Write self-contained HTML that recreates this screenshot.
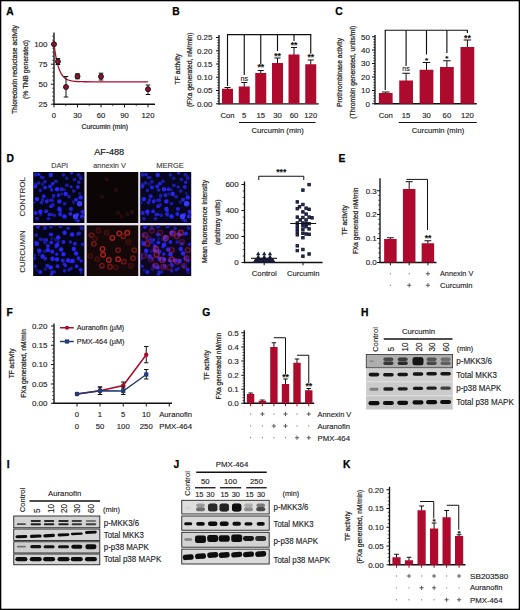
<!DOCTYPE html>
<html><head><meta charset="utf-8"><title>Figure</title>
<style>
html,body{margin:0;padding:0;background:#fff;}
body{width:520px;height:610px;overflow:hidden;}
svg{display:block;font-family:"Liberation Sans",sans-serif;}
</style></head>
<body>
<svg width="520" height="610" viewBox="0 0 520 610">
<rect width="520" height="610" fill="#ffffff"/>
<defs><filter id="blur1" x="-10%" y="-10%" width="120%" height="120%"><feGaussianBlur stdDeviation="0.7"/></filter><filter id="blurb" x="-10%" y="-30%" width="120%" height="160%"><feGaussianBlur stdDeviation="0.75"/></filter><filter id="blurs" x="-10%" y="-30%" width="120%" height="160%"><feGaussianBlur stdDeviation="0.6"/></filter></defs>
<text x="6.3" y="14.9" font-size="10.3" font-weight="bold" fill="#000" stroke="#000" stroke-width="0.25">A</text>
<line x1="54" y1="32.5" x2="54" y2="104.8" stroke="#111111" stroke-width="1.35"/>
<line x1="51" y1="44.2" x2="54" y2="44.2" stroke="#111111" stroke-width="1"/>
<text x="47.5" y="47.05" font-size="8" text-anchor="end" fill="#1e1e1e" stroke="#1e1e1e" stroke-width="0.14">100</text>
<line x1="51" y1="64.2" x2="54" y2="64.2" stroke="#111111" stroke-width="1"/>
<text x="47.5" y="67.05" font-size="8" text-anchor="end" fill="#1e1e1e" stroke="#1e1e1e" stroke-width="0.14">75</text>
<line x1="51" y1="84.2" x2="54" y2="84.2" stroke="#111111" stroke-width="1"/>
<text x="47.5" y="87.05" font-size="8" text-anchor="end" fill="#1e1e1e" stroke="#1e1e1e" stroke-width="0.14">50</text>
<line x1="51" y1="104.2" x2="54" y2="104.2" stroke="#111111" stroke-width="1"/>
<text x="47.5" y="107.05" font-size="8" text-anchor="end" fill="#1e1e1e" stroke="#1e1e1e" stroke-width="0.14">25</text>
<line x1="52.2" y1="36.2" x2="54" y2="36.2" stroke="#111111" stroke-width="0.7"/>
<line x1="52.2" y1="40.2" x2="54" y2="40.2" stroke="#111111" stroke-width="0.7"/>
<line x1="52.2" y1="48.2" x2="54" y2="48.2" stroke="#111111" stroke-width="0.7"/>
<line x1="52.2" y1="52.2" x2="54" y2="52.2" stroke="#111111" stroke-width="0.7"/>
<line x1="52.2" y1="56.2" x2="54" y2="56.2" stroke="#111111" stroke-width="0.7"/>
<line x1="52.2" y1="60.2" x2="54" y2="60.2" stroke="#111111" stroke-width="0.7"/>
<line x1="52.2" y1="68.2" x2="54" y2="68.2" stroke="#111111" stroke-width="0.7"/>
<line x1="52.2" y1="72.2" x2="54" y2="72.2" stroke="#111111" stroke-width="0.7"/>
<line x1="52.2" y1="76.2" x2="54" y2="76.2" stroke="#111111" stroke-width="0.7"/>
<line x1="52.2" y1="80.2" x2="54" y2="80.2" stroke="#111111" stroke-width="0.7"/>
<line x1="52.2" y1="88.2" x2="54" y2="88.2" stroke="#111111" stroke-width="0.7"/>
<line x1="52.2" y1="92.2" x2="54" y2="92.2" stroke="#111111" stroke-width="0.7"/>
<line x1="52.2" y1="96.2" x2="54" y2="96.2" stroke="#111111" stroke-width="0.7"/>
<line x1="52.2" y1="100.2" x2="54" y2="100.2" stroke="#111111" stroke-width="0.7"/>
<line x1="53.4" y1="104.2" x2="155" y2="104.2" stroke="#111111" stroke-width="1.35"/>
<line x1="54" y1="104.2" x2="54" y2="107.4" stroke="#111111" stroke-width="1"/>
<text x="54" y="117.5" font-size="7.7" text-anchor="middle" fill="#1e1e1e" stroke="#1e1e1e" stroke-width="0.14">0</text>
<line x1="77.5" y1="104.2" x2="77.5" y2="107.4" stroke="#111111" stroke-width="1"/>
<text x="77.5" y="117.5" font-size="7.7" text-anchor="middle" fill="#1e1e1e" stroke="#1e1e1e" stroke-width="0.14">30</text>
<line x1="101" y1="104.2" x2="101" y2="107.4" stroke="#111111" stroke-width="1"/>
<text x="101" y="117.5" font-size="7.7" text-anchor="middle" fill="#1e1e1e" stroke="#1e1e1e" stroke-width="0.14">60</text>
<line x1="124.5" y1="104.2" x2="124.5" y2="107.4" stroke="#111111" stroke-width="1"/>
<text x="124.5" y="117.5" font-size="7.7" text-anchor="middle" fill="#1e1e1e" stroke="#1e1e1e" stroke-width="0.14">90</text>
<line x1="148" y1="104.2" x2="148" y2="107.4" stroke="#111111" stroke-width="1"/>
<text x="148" y="117.5" font-size="7.7" text-anchor="middle" fill="#1e1e1e" stroke="#1e1e1e" stroke-width="0.14">120</text>
<line x1="65.75" y1="104.2" x2="65.75" y2="106.2" stroke="#111111" stroke-width="0.7"/>
<line x1="89.25" y1="104.2" x2="89.25" y2="106.2" stroke="#111111" stroke-width="0.7"/>
<line x1="112.75" y1="104.2" x2="112.75" y2="106.2" stroke="#111111" stroke-width="0.7"/>
<line x1="136.25" y1="104.2" x2="136.25" y2="106.2" stroke="#111111" stroke-width="0.7"/>
<text x="104.75" y="128.6" font-size="7.4" text-anchor="middle" textLength="46.5" lengthAdjust="spacingAndGlyphs" fill="#1e1e1e" stroke="#2a2a2a" stroke-width="0.22">Curcumin (min)</text>
<text transform="translate(16.6,69.5) rotate(-90)" font-size="7.4" text-anchor="middle" textLength="89" lengthAdjust="spacingAndGlyphs" fill="#1e1e1e" stroke="#222" stroke-width="0.24">Thioredoxin reductase activity</text>
<text transform="translate(28.4,69.5) rotate(-90)" font-size="7.4" text-anchor="middle" textLength="59" lengthAdjust="spacingAndGlyphs" fill="#1e1e1e" stroke="#222" stroke-width="0.24">(% TNB generated)</text>
<polyline points="54.00,44.20 54.78,49.95 55.57,54.82 56.35,58.95 57.13,62.44 57.92,65.40 58.70,67.91 59.48,70.04 60.27,71.84 61.05,73.36 61.83,74.65 62.62,75.74 63.40,76.67 64.18,77.46 64.97,78.12 65.75,78.68 66.53,79.16 67.32,79.56 68.10,79.91 68.88,80.20 69.67,80.44 70.45,80.65 71.23,80.82 72.02,80.97 72.80,81.10 73.58,81.21 74.37,81.30 75.15,81.37 75.93,81.44 76.72,81.49 77.50,81.54 78.28,81.58 79.07,81.61 79.85,81.64 80.63,81.67 81.42,81.69 82.20,81.70 82.98,81.72 83.77,81.73 84.55,81.74 85.33,81.75 93.17,81.79 101.00,81.80 108.83,81.80 116.67,81.80 124.50,81.80 132.33,81.80 140.17,81.80 148.00,81.80" fill="none" stroke="#ae0a2e" stroke-width="1.3"/>
<circle cx="54" cy="44.2" r="2.5" fill="#8e1230" stroke="#111" stroke-width="0.9"/>
<line x1="57.9" y1="58.6" x2="57.9" y2="64.5" stroke="#111" stroke-width="1"/>
<line x1="55.6" y1="58.6" x2="60.2" y2="58.6" stroke="#111" stroke-width="1"/>
<line x1="55.6" y1="64.5" x2="60.2" y2="64.5" stroke="#111" stroke-width="1"/>
<circle cx="57.9" cy="61.5" r="2.5" fill="#8e1230" stroke="#111" stroke-width="0.9"/>
<line x1="66" y1="76.5" x2="66" y2="97" stroke="#111" stroke-width="1"/>
<line x1="63.7" y1="76.5" x2="68.3" y2="76.5" stroke="#111" stroke-width="1"/>
<line x1="63.7" y1="97" x2="68.3" y2="97" stroke="#111" stroke-width="1"/>
<circle cx="66" cy="87" r="2.5" fill="#8e1230" stroke="#111" stroke-width="0.9"/>
<line x1="77.5" y1="73.8" x2="77.5" y2="78.8" stroke="#111" stroke-width="1"/>
<line x1="75.2" y1="73.8" x2="79.8" y2="73.8" stroke="#111" stroke-width="1"/>
<line x1="75.2" y1="78.8" x2="79.8" y2="78.8" stroke="#111" stroke-width="1"/>
<circle cx="77.5" cy="76.3" r="2.5" fill="#8e1230" stroke="#111" stroke-width="0.9"/>
<line x1="101" y1="73.2" x2="101" y2="80" stroke="#111" stroke-width="1"/>
<line x1="98.7" y1="73.2" x2="103.3" y2="73.2" stroke="#111" stroke-width="1"/>
<line x1="98.7" y1="80" x2="103.3" y2="80" stroke="#111" stroke-width="1"/>
<circle cx="101" cy="76.6" r="2.5" fill="#8e1230" stroke="#111" stroke-width="0.9"/>
<line x1="148" y1="85" x2="148" y2="94.5" stroke="#111" stroke-width="1"/>
<line x1="145.7" y1="85" x2="150.3" y2="85" stroke="#111" stroke-width="1"/>
<line x1="145.7" y1="94.5" x2="150.3" y2="94.5" stroke="#111" stroke-width="1"/>
<circle cx="148" cy="89.2" r="2.5" fill="#8e1230" stroke="#111" stroke-width="0.9"/>
<text x="172.2" y="14.9" font-size="10.3" font-weight="bold" fill="#000" stroke="#000" stroke-width="0.25">B</text>
<line x1="219" y1="35" x2="219" y2="104.4" stroke="#111111" stroke-width="1.35"/>
<line x1="216" y1="37.5" x2="219" y2="37.5" stroke="#111111" stroke-width="1"/>
<text x="212.5" y="40.35" font-size="8" text-anchor="end" fill="#1e1e1e" stroke="#1e1e1e" stroke-width="0.14">0.25</text>
<line x1="216" y1="50.75" x2="219" y2="50.75" stroke="#111111" stroke-width="1"/>
<text x="212.5" y="53.6" font-size="8" text-anchor="end" fill="#1e1e1e" stroke="#1e1e1e" stroke-width="0.14">0.20</text>
<line x1="216" y1="64" x2="219" y2="64" stroke="#111111" stroke-width="1"/>
<text x="212.5" y="66.85" font-size="8" text-anchor="end" fill="#1e1e1e" stroke="#1e1e1e" stroke-width="0.14">0.15</text>
<line x1="216" y1="77.25" x2="219" y2="77.25" stroke="#111111" stroke-width="1"/>
<text x="212.5" y="80.1" font-size="8" text-anchor="end" fill="#1e1e1e" stroke="#1e1e1e" stroke-width="0.14">0.10</text>
<line x1="216" y1="90.5" x2="219" y2="90.5" stroke="#111111" stroke-width="1"/>
<text x="212.5" y="93.35" font-size="8" text-anchor="end" fill="#1e1e1e" stroke="#1e1e1e" stroke-width="0.14">0.05</text>
<line x1="216" y1="103.8" x2="219" y2="103.8" stroke="#111111" stroke-width="1"/>
<text x="212.5" y="106.65" font-size="8" text-anchor="end" fill="#1e1e1e" stroke="#1e1e1e" stroke-width="0.14">0.00</text>
<line x1="217.2" y1="40.15" x2="219" y2="40.15" stroke="#111111" stroke-width="0.7"/>
<line x1="217.2" y1="42.8" x2="219" y2="42.8" stroke="#111111" stroke-width="0.7"/>
<line x1="217.2" y1="45.45" x2="219" y2="45.45" stroke="#111111" stroke-width="0.7"/>
<line x1="217.2" y1="48.1" x2="219" y2="48.1" stroke="#111111" stroke-width="0.7"/>
<line x1="217.2" y1="53.4" x2="219" y2="53.4" stroke="#111111" stroke-width="0.7"/>
<line x1="217.2" y1="56.05" x2="219" y2="56.05" stroke="#111111" stroke-width="0.7"/>
<line x1="217.2" y1="58.7" x2="219" y2="58.7" stroke="#111111" stroke-width="0.7"/>
<line x1="217.2" y1="61.35" x2="219" y2="61.35" stroke="#111111" stroke-width="0.7"/>
<line x1="217.2" y1="66.65" x2="219" y2="66.65" stroke="#111111" stroke-width="0.7"/>
<line x1="217.2" y1="69.3" x2="219" y2="69.3" stroke="#111111" stroke-width="0.7"/>
<line x1="217.2" y1="71.95" x2="219" y2="71.95" stroke="#111111" stroke-width="0.7"/>
<line x1="217.2" y1="74.6" x2="219" y2="74.6" stroke="#111111" stroke-width="0.7"/>
<line x1="217.2" y1="79.9" x2="219" y2="79.9" stroke="#111111" stroke-width="0.7"/>
<line x1="217.2" y1="82.55" x2="219" y2="82.55" stroke="#111111" stroke-width="0.7"/>
<line x1="217.2" y1="85.2" x2="219" y2="85.2" stroke="#111111" stroke-width="0.7"/>
<line x1="217.2" y1="87.85" x2="219" y2="87.85" stroke="#111111" stroke-width="0.7"/>
<line x1="217.2" y1="93.16" x2="219" y2="93.16" stroke="#111111" stroke-width="0.7"/>
<line x1="217.2" y1="95.82" x2="219" y2="95.82" stroke="#111111" stroke-width="0.7"/>
<line x1="217.2" y1="98.48" x2="219" y2="98.48" stroke="#111111" stroke-width="0.7"/>
<line x1="217.2" y1="101.14" x2="219" y2="101.14" stroke="#111111" stroke-width="0.7"/>
<line x1="218.4" y1="103.8" x2="318.75" y2="103.8" stroke="#111111" stroke-width="1.35"/>
<text transform="translate(180,69) rotate(-90)" font-size="7.4" text-anchor="middle" textLength="30.75" lengthAdjust="spacingAndGlyphs" fill="#1e1e1e" stroke="#222" stroke-width="0.24">TF activity</text>
<text transform="translate(192,69.75) rotate(-90)" font-size="7.4" text-anchor="middle" textLength="74.5" lengthAdjust="spacingAndGlyphs" fill="#1e1e1e" stroke="#222" stroke-width="0.24">(FXa generated, nM/min)</text>
<line x1="227.5" y1="87.5" x2="227.5" y2="89.25" stroke="#111" stroke-width="1"/>
<line x1="224.47" y1="87.5" x2="230.53" y2="87.5" stroke="#111" stroke-width="1"/>
<rect x="222" y="88.75" width="11" height="15.05" fill="#ae0a2e"/>
<line x1="244.25" y1="82.5" x2="244.25" y2="87" stroke="#111" stroke-width="1"/>
<line x1="241.22" y1="82.5" x2="247.28" y2="82.5" stroke="#111" stroke-width="1"/>
<rect x="238.75" y="86.5" width="11" height="17.3" fill="#ae0a2e"/>
<line x1="260.75" y1="70.5" x2="260.75" y2="73.5" stroke="#111" stroke-width="1"/>
<line x1="257.73" y1="70.5" x2="263.77" y2="70.5" stroke="#111" stroke-width="1"/>
<rect x="255.25" y="73" width="11" height="30.8" fill="#ae0a2e"/>
<line x1="277.5" y1="58" x2="277.5" y2="63.5" stroke="#111" stroke-width="1"/>
<line x1="274.48" y1="58" x2="280.52" y2="58" stroke="#111" stroke-width="1"/>
<rect x="272" y="63" width="11" height="40.8" fill="#ae0a2e"/>
<line x1="294" y1="47.5" x2="294" y2="55" stroke="#111" stroke-width="1"/>
<line x1="290.98" y1="47.5" x2="297.02" y2="47.5" stroke="#111" stroke-width="1"/>
<rect x="288.5" y="54.5" width="11" height="49.3" fill="#ae0a2e"/>
<line x1="310.75" y1="60" x2="310.75" y2="64.75" stroke="#111" stroke-width="1"/>
<line x1="307.73" y1="60" x2="313.77" y2="60" stroke="#111" stroke-width="1"/>
<rect x="305.25" y="64.25" width="11" height="39.55" fill="#ae0a2e"/>
<line x1="227" y1="34.6" x2="311.25" y2="34.6" stroke="#111111" stroke-width="1.1"/>
<line x1="227.5" y1="34.6" x2="227.5" y2="86" stroke="#111111" stroke-width="1.15"/>
<line x1="244.25" y1="34.6" x2="244.25" y2="75" stroke="#111111" stroke-width="1.15"/>
<line x1="260.75" y1="34.6" x2="260.75" y2="64.5" stroke="#111111" stroke-width="1.15"/>
<line x1="277.5" y1="34.6" x2="277.5" y2="51" stroke="#111111" stroke-width="1.15"/>
<line x1="294" y1="34.6" x2="294" y2="41" stroke="#111111" stroke-width="1.15"/>
<line x1="310.75" y1="34.6" x2="310.75" y2="53.75" stroke="#111111" stroke-width="1.15"/>
<text x="244.25" y="81" font-size="7.2" text-anchor="middle" fill="#1e1e1e" stroke="#1e1e1e" stroke-width="0.14">ns</text>
<text x="260.75" y="69.94" font-size="8.6" text-anchor="middle" font-weight="bold" fill="#111" stroke="#111" stroke-width="0.14">**</text>
<text x="277.5" y="58.74" font-size="8.6" text-anchor="middle" font-weight="bold" fill="#111" stroke="#111" stroke-width="0.14">**</text>
<text x="294" y="48.04" font-size="8.6" text-anchor="middle" font-weight="bold" fill="#111" stroke="#111" stroke-width="0.14">**</text>
<text x="310.75" y="60.45" font-size="8.6" text-anchor="middle" font-weight="bold" fill="#111" stroke="#111" stroke-width="0.14">**</text>
<text x="227.5" y="117.5" font-size="7.7" text-anchor="middle" fill="#1e1e1e" stroke="#1e1e1e" stroke-width="0.14">Con</text>
<text x="244.25" y="117.5" font-size="7.7" text-anchor="middle" fill="#1e1e1e" stroke="#1e1e1e" stroke-width="0.14">5</text>
<text x="260.75" y="117.5" font-size="7.7" text-anchor="middle" fill="#1e1e1e" stroke="#1e1e1e" stroke-width="0.14">15</text>
<text x="277.5" y="117.5" font-size="7.7" text-anchor="middle" fill="#1e1e1e" stroke="#1e1e1e" stroke-width="0.14">30</text>
<text x="294" y="117.5" font-size="7.7" text-anchor="middle" fill="#1e1e1e" stroke="#1e1e1e" stroke-width="0.14">60</text>
<text x="310.75" y="117.5" font-size="7.7" text-anchor="middle" fill="#1e1e1e" stroke="#1e1e1e" stroke-width="0.14">120</text>
<line x1="239" y1="122.5" x2="315.5" y2="122.5" stroke="#111111" stroke-width="1.2"/>
<text x="251.5" y="132.5" font-size="7.7" textLength="52.25" lengthAdjust="spacingAndGlyphs" fill="#1e1e1e" stroke="#1e1e1e" stroke-width="0.14">Curcumin (min)</text>
<text x="335.2" y="14.9" font-size="10.3" font-weight="bold" fill="#000" stroke="#000" stroke-width="0.25">C</text>
<line x1="375" y1="35" x2="375" y2="104.35" stroke="#111111" stroke-width="1.35"/>
<line x1="372" y1="36.75" x2="375" y2="36.75" stroke="#111111" stroke-width="1"/>
<text x="370" y="39.6" font-size="8" text-anchor="end" fill="#1e1e1e" stroke="#1e1e1e" stroke-width="0.14">50</text>
<line x1="372" y1="50" x2="375" y2="50" stroke="#111111" stroke-width="1"/>
<text x="370" y="52.85" font-size="8" text-anchor="end" fill="#1e1e1e" stroke="#1e1e1e" stroke-width="0.14">40</text>
<line x1="372" y1="63.5" x2="375" y2="63.5" stroke="#111111" stroke-width="1"/>
<text x="370" y="66.35" font-size="8" text-anchor="end" fill="#1e1e1e" stroke="#1e1e1e" stroke-width="0.14">30</text>
<line x1="372" y1="77" x2="375" y2="77" stroke="#111111" stroke-width="1"/>
<text x="370" y="79.85" font-size="8" text-anchor="end" fill="#1e1e1e" stroke="#1e1e1e" stroke-width="0.14">20</text>
<line x1="372" y1="90.5" x2="375" y2="90.5" stroke="#111111" stroke-width="1"/>
<text x="370" y="93.35" font-size="8" text-anchor="end" fill="#1e1e1e" stroke="#1e1e1e" stroke-width="0.14">10</text>
<line x1="372" y1="103.75" x2="375" y2="103.75" stroke="#111111" stroke-width="1"/>
<text x="370" y="106.6" font-size="8" text-anchor="end" fill="#1e1e1e" stroke="#1e1e1e" stroke-width="0.14">0</text>
<line x1="373.2" y1="39.4" x2="375" y2="39.4" stroke="#111111" stroke-width="0.7"/>
<line x1="373.2" y1="42.05" x2="375" y2="42.05" stroke="#111111" stroke-width="0.7"/>
<line x1="373.2" y1="44.7" x2="375" y2="44.7" stroke="#111111" stroke-width="0.7"/>
<line x1="373.2" y1="47.35" x2="375" y2="47.35" stroke="#111111" stroke-width="0.7"/>
<line x1="373.2" y1="52.7" x2="375" y2="52.7" stroke="#111111" stroke-width="0.7"/>
<line x1="373.2" y1="55.4" x2="375" y2="55.4" stroke="#111111" stroke-width="0.7"/>
<line x1="373.2" y1="58.1" x2="375" y2="58.1" stroke="#111111" stroke-width="0.7"/>
<line x1="373.2" y1="60.8" x2="375" y2="60.8" stroke="#111111" stroke-width="0.7"/>
<line x1="373.2" y1="66.2" x2="375" y2="66.2" stroke="#111111" stroke-width="0.7"/>
<line x1="373.2" y1="68.9" x2="375" y2="68.9" stroke="#111111" stroke-width="0.7"/>
<line x1="373.2" y1="71.6" x2="375" y2="71.6" stroke="#111111" stroke-width="0.7"/>
<line x1="373.2" y1="74.3" x2="375" y2="74.3" stroke="#111111" stroke-width="0.7"/>
<line x1="373.2" y1="79.7" x2="375" y2="79.7" stroke="#111111" stroke-width="0.7"/>
<line x1="373.2" y1="82.4" x2="375" y2="82.4" stroke="#111111" stroke-width="0.7"/>
<line x1="373.2" y1="85.1" x2="375" y2="85.1" stroke="#111111" stroke-width="0.7"/>
<line x1="373.2" y1="87.8" x2="375" y2="87.8" stroke="#111111" stroke-width="0.7"/>
<line x1="373.2" y1="93.15" x2="375" y2="93.15" stroke="#111111" stroke-width="0.7"/>
<line x1="373.2" y1="95.8" x2="375" y2="95.8" stroke="#111111" stroke-width="0.7"/>
<line x1="373.2" y1="98.45" x2="375" y2="98.45" stroke="#111111" stroke-width="0.7"/>
<line x1="373.2" y1="101.1" x2="375" y2="101.1" stroke="#111111" stroke-width="0.7"/>
<line x1="374.4" y1="103.75" x2="476.75" y2="103.75" stroke="#111111" stroke-width="1.35"/>
<text transform="translate(342.4,72.5) rotate(-90)" font-size="7.4" text-anchor="middle" textLength="69" lengthAdjust="spacingAndGlyphs" fill="#1e1e1e" stroke="#222" stroke-width="0.24">Prothrombinase activity</text>
<text transform="translate(354.6,72.25) rotate(-90)" font-size="7.4" text-anchor="middle" textLength="93" lengthAdjust="spacingAndGlyphs" fill="#1e1e1e" stroke="#222" stroke-width="0.24">(Thrombin generated, units/ml)</text>
<line x1="385.75" y1="92" x2="385.75" y2="93.5" stroke="#111" stroke-width="1"/>
<line x1="381.97" y1="92" x2="389.53" y2="92" stroke="#111" stroke-width="1"/>
<rect x="378.88" y="93" width="13.75" height="10.75" fill="#ae0a2e"/>
<line x1="406.1" y1="73.25" x2="406.1" y2="81" stroke="#111" stroke-width="1"/>
<line x1="402.32" y1="73.25" x2="409.88" y2="73.25" stroke="#111" stroke-width="1"/>
<rect x="399.23" y="80.5" width="13.75" height="23.25" fill="#ae0a2e"/>
<line x1="426.5" y1="62.5" x2="426.5" y2="70.25" stroke="#111" stroke-width="1"/>
<line x1="422.72" y1="62.5" x2="430.28" y2="62.5" stroke="#111" stroke-width="1"/>
<rect x="419.62" y="69.75" width="13.75" height="34" fill="#ae0a2e"/>
<line x1="446.9" y1="60.75" x2="446.9" y2="67.5" stroke="#111" stroke-width="1"/>
<line x1="443.12" y1="60.75" x2="450.68" y2="60.75" stroke="#111" stroke-width="1"/>
<rect x="440.02" y="67" width="13.75" height="36.75" fill="#ae0a2e"/>
<line x1="467.4" y1="40" x2="467.4" y2="47.5" stroke="#111" stroke-width="1"/>
<line x1="463.62" y1="40" x2="471.18" y2="40" stroke="#111" stroke-width="1"/>
<rect x="460.52" y="47" width="13.75" height="56.75" fill="#ae0a2e"/>
<line x1="384.7" y1="30.25" x2="468" y2="30.25" stroke="#111111" stroke-width="1.15"/>
<line x1="385.25" y1="30.25" x2="385.25" y2="90" stroke="#111111" stroke-width="1.15"/>
<line x1="406.1" y1="30.25" x2="406.1" y2="66" stroke="#111111" stroke-width="1.15"/>
<line x1="426.5" y1="30.25" x2="426.5" y2="54.5" stroke="#111111" stroke-width="1.15"/>
<line x1="446.9" y1="30.25" x2="446.9" y2="53" stroke="#111111" stroke-width="1.15"/>
<line x1="467.4" y1="30.25" x2="467.4" y2="33" stroke="#111111" stroke-width="1.15"/>
<text x="406.1" y="71" font-size="7.2" text-anchor="middle" fill="#1e1e1e" stroke="#1e1e1e" stroke-width="0.14">ns</text>
<text x="426.5" y="62.65" font-size="8" text-anchor="middle" font-weight="bold" fill="#111" stroke="#111" stroke-width="0.14">*</text>
<text x="446.9" y="61.4" font-size="8" text-anchor="middle" font-weight="bold" fill="#111" stroke="#111" stroke-width="0.14">*</text>
<text x="467.4" y="41.24" font-size="8.6" text-anchor="middle" font-weight="bold" fill="#111" stroke="#111" stroke-width="0.14">**</text>
<text x="385.75" y="117.5" font-size="7.7" text-anchor="middle" fill="#1e1e1e" stroke="#1e1e1e" stroke-width="0.14">Con</text>
<text x="406.1" y="117.5" font-size="7.7" text-anchor="middle" fill="#1e1e1e" stroke="#1e1e1e" stroke-width="0.14">15</text>
<text x="426.5" y="117.5" font-size="7.7" text-anchor="middle" fill="#1e1e1e" stroke="#1e1e1e" stroke-width="0.14">30</text>
<text x="446.9" y="117.5" font-size="7.7" text-anchor="middle" fill="#1e1e1e" stroke="#1e1e1e" stroke-width="0.14">60</text>
<text x="467.4" y="117.5" font-size="7.7" text-anchor="middle" fill="#1e1e1e" stroke="#1e1e1e" stroke-width="0.14">120</text>
<line x1="398.75" y1="122.5" x2="476.75" y2="122.5" stroke="#111111" stroke-width="1.2"/>
<text x="411.75" y="132.5" font-size="7.7" textLength="52.5" lengthAdjust="spacingAndGlyphs" fill="#1e1e1e" stroke="#1e1e1e" stroke-width="0.14">Curcumin (min)</text>
<text x="6.6" y="162.3" font-size="10.3" font-weight="bold" fill="#000" stroke="#000" stroke-width="0.25">D</text>
<text x="109.2" y="155.2" font-size="9" text-anchor="middle" textLength="30" lengthAdjust="spacingAndGlyphs" fill="#111" stroke="#111" stroke-width="0.14">AF-488</text>
<text x="51.25" y="167.5" font-size="7.7" textLength="16.75" lengthAdjust="spacingAndGlyphs" fill="#444" stroke="#444" stroke-width="0.14">DAPI</text>
<text x="93.3" y="167.5" font-size="7.7" textLength="32.5" lengthAdjust="spacingAndGlyphs" fill="#444" stroke="#444" stroke-width="0.14">annexin V</text>
<text x="156.25" y="167.5" font-size="7.7" textLength="27.5" lengthAdjust="spacingAndGlyphs" fill="#444" stroke="#444" stroke-width="0.14">MERGE</text>
<text transform="translate(25,196.75) rotate(-90)" font-size="7.7" text-anchor="middle" textLength="39.5" lengthAdjust="spacingAndGlyphs" fill="#333" stroke="#333" stroke-width="0.14">CONTROL</text>
<text transform="translate(25,251.5) rotate(-90)" font-size="7.7" text-anchor="middle" textLength="42.5" lengthAdjust="spacingAndGlyphs" fill="#333" stroke="#333" stroke-width="0.14">CURCUMIN</text>
<rect x="33.2" y="172" width="158" height="104" fill="#e9e2ea"/>
<clipPath id="cp1"><rect x="33.2" y="172" width="51.2" height="51"/></clipPath>
<rect x="33.2" y="172" width="51.2" height="51" fill="#040418"/>
<g clip-path="url(#cp1)"><g filter="url(#blur1)">
<circle cx="40.78" cy="214.52" r="1.63" fill="#141474"/>
<circle cx="58.48" cy="195.03" r="1.89" fill="#2424e0"/>
<circle cx="38.8" cy="174.39" r="1.72" fill="#2424e0"/>
<circle cx="71.55" cy="173.1" r="1.63" fill="#2424e0"/>
<circle cx="73.49" cy="201.97" r="1.95" fill="#141474"/>
<circle cx="35.7" cy="174.25" r="1.97" fill="#141474"/>
<circle cx="52.88" cy="183.61" r="1.86" fill="#2424e0"/>
<circle cx="60.05" cy="210.42" r="1.78" fill="#2424e0"/>
<circle cx="51.14" cy="206.17" r="1.98" fill="#2424e0"/>
<circle cx="79.6" cy="193.39" r="1.59" fill="#141474"/>
<circle cx="82.83" cy="215.14" r="1.87" fill="#141474"/>
<circle cx="78.08" cy="220.69" r="1.75" fill="#2424e0"/>
<circle cx="78.8" cy="182.3" r="1.79" fill="#2020c4"/>
<circle cx="77.44" cy="214.46" r="1.79" fill="#2424e0"/>
<circle cx="35.89" cy="184.89" r="1.71" fill="#2424e0"/>
<circle cx="42.68" cy="199.89" r="1.54" fill="#2020c4"/>
<circle cx="66.72" cy="178.29" r="1.76" fill="#1a1a9c"/>
<circle cx="53.47" cy="196.99" r="1.73" fill="#141474"/>
<circle cx="49.32" cy="214.57" r="1.82" fill="#2424e0"/>
<circle cx="42.46" cy="184.12" r="1.89" fill="#141474"/>
<circle cx="60.64" cy="215.15" r="1.7" fill="#1a1a9c"/>
<circle cx="51.05" cy="214.53" r="1.73" fill="#2020c4"/>
<circle cx="47.39" cy="199.85" r="1.69" fill="#141474"/>
<circle cx="76.19" cy="219.78" r="1.76" fill="#1a1a9c"/>
<circle cx="61.71" cy="193.88" r="1.74" fill="#141474"/>
<circle cx="52.07" cy="200.17" r="1.74" fill="#2424e0"/>
<circle cx="51.68" cy="189.96" r="1.73" fill="#2020c4"/>
<circle cx="35.57" cy="184.25" r="1.78" fill="#1a1a9c"/>
<circle cx="43.06" cy="177.49" r="1.52" fill="#2020c4"/>
<circle cx="80.43" cy="176.45" r="1.73" fill="#141474"/>
<circle cx="71.15" cy="186.78" r="1.55" fill="#2020c4"/>
<circle cx="64.82" cy="189.88" r="1.58" fill="#141474"/>
<circle cx="50.74" cy="174.88" r="2.2" fill="#2828f6"/>
<circle cx="41.51" cy="177.19" r="1.8" fill="#1e1eb4"/>
<circle cx="38.62" cy="182.96" r="1.8" fill="#1e1eb4"/>
<circle cx="44.97" cy="187.58" r="2.0" fill="#2222dc"/>
<circle cx="50.16" cy="186.42" r="2.0" fill="#2222dc"/>
<circle cx="35.16" cy="186.42" r="2.0" fill="#2222dc"/>
<circle cx="40.35" cy="190.46" r="1.8" fill="#1e1eb4"/>
<circle cx="57.08" cy="189.31" r="2.2" fill="#2828f6"/>
<circle cx="61.7" cy="189.31" r="2.0" fill="#2222dc"/>
<circle cx="65.74" cy="193.92" r="2.2" fill="#2828f6"/>
<circle cx="43.81" cy="196.23" r="2.0" fill="#2222dc"/>
<circle cx="36.89" cy="199.11" r="2.2" fill="#2828f6"/>
<circle cx="46.7" cy="201.42" r="2.0" fill="#2222dc"/>
<circle cx="59.39" cy="201.42" r="2.2" fill="#2828f6"/>
<circle cx="41.51" cy="202.58" r="1.8" fill="#1e1eb4"/>
<circle cx="50.74" cy="200.27" r="1.8" fill="#1e1eb4"/>
<circle cx="79.58" cy="203.73" r="2.7" fill="#3838ff"/>
<circle cx="80.74" cy="197.38" r="2.2" fill="#2828f6"/>
<circle cx="76.12" cy="199.69" r="2.0" fill="#2222dc"/>
<circle cx="77.85" cy="187" r="2.0" fill="#2222dc"/>
<circle cx="74.39" cy="179.5" r="1.8" fill="#1e1eb4"/>
<circle cx="80.74" cy="178.35" r="1.8" fill="#1e1eb4"/>
<circle cx="59.39" cy="208.92" r="2.2" fill="#2828f6"/>
<circle cx="46.12" cy="211.23" r="2.0" fill="#2222dc"/>
<circle cx="40.35" cy="211.81" r="2.2" fill="#2828f6"/>
<circle cx="35.74" cy="212.96" r="2.0" fill="#2222dc"/>
<circle cx="70.93" cy="208.92" r="2.0" fill="#2222dc"/>
<circle cx="75.54" cy="216.42" r="2.7" fill="#3838ff"/>
<circle cx="64.58" cy="216.42" r="2.2" fill="#2828f6"/>
<circle cx="59.97" cy="214.11" r="2.0" fill="#2222dc"/>
<circle cx="54.2" cy="215.27" r="1.8" fill="#1e1eb4"/>
<circle cx="70.35" cy="214.11" r="2.0" fill="#2222dc"/>
<circle cx="33.43" cy="202.58" r="1.8" fill="#1e1eb4"/>
<circle cx="69.2" cy="196.81" r="1.8" fill="#1e1eb4"/>
<circle cx="53.62" cy="195.65" r="1.8" fill="#1e1eb4"/>
<circle cx="55.93" cy="181.23" r="1.8" fill="#1e1eb4"/>
<circle cx="63.43" cy="174.88" r="1.8" fill="#1e1eb4"/>
<circle cx="36.89" cy="218.73" r="1.8" fill="#1e1eb4"/>
<circle cx="48.43" cy="218.73" r="1.8" fill="#1e1eb4"/>
<circle cx="81.89" cy="216.42" r="2.0" fill="#2222dc"/>
<circle cx="82.47" cy="211.81" r="2.0" fill="#2222dc"/>
<circle cx="66.89" cy="185.27" r="1.8" fill="#1e1eb4"/>
<circle cx="44.97" cy="181.81" r="1.8" fill="#1e1eb4"/>
<circle cx="53.05" cy="204.88" r="1.8" fill="#1e1eb4"/>
<circle cx="73.81" cy="191.04" r="1.8" fill="#1e1eb4"/>
<circle cx="64.58" cy="203.73" r="1.8" fill="#1e1eb4"/>
<circle cx="78.43" cy="174.88" r="1.8" fill="#1e1eb4"/>
<circle cx="35.74" cy="174.88" r="1.8" fill="#1e1eb4"/>
</g></g>
<clipPath id="cp2"><rect x="86.7" y="172" width="51.5" height="51"/></clipPath>
<rect x="86.7" y="172" width="51.5" height="51" fill="#0b0606"/>
<g clip-path="url(#cp2)"><g filter="url(#blur1)">
<circle cx="106.55" cy="179.5" r="2.2" fill="#260a0a"/>
<circle cx="115.78" cy="189.88" r="2.2" fill="#260a0a"/>
<circle cx="118.08" cy="212.96" r="2.2" fill="#260a0a"/>
<circle cx="127.31" cy="214.11" r="2.2" fill="#260a0a"/>
<circle cx="121.54" cy="216.42" r="2.2" fill="#260a0a"/>
<circle cx="101.93" cy="196.81" r="2.2" fill="#260a0a"/>
<circle cx="131.93" cy="211.81" r="2.2" fill="#260a0a"/>
</g></g>
<clipPath id="cp3"><rect x="140.2" y="172" width="51" height="51"/></clipPath>
<rect x="140.2" y="172" width="51" height="51" fill="#070722"/>
<g clip-path="url(#cp3)"><g filter="url(#blur1)">
<circle cx="147.78" cy="214.52" r="1.63" fill="#141474"/>
<circle cx="165.48" cy="195.03" r="1.89" fill="#2424e0"/>
<circle cx="145.8" cy="174.39" r="1.72" fill="#2424e0"/>
<circle cx="178.55" cy="173.1" r="1.63" fill="#2424e0"/>
<circle cx="180.49" cy="201.97" r="1.95" fill="#141474"/>
<circle cx="142.7" cy="174.25" r="1.97" fill="#141474"/>
<circle cx="159.88" cy="183.61" r="1.86" fill="#2424e0"/>
<circle cx="167.05" cy="210.42" r="1.78" fill="#2424e0"/>
<circle cx="158.14" cy="206.17" r="1.98" fill="#2424e0"/>
<circle cx="186.6" cy="193.39" r="1.59" fill="#141474"/>
<circle cx="189.83" cy="215.14" r="1.87" fill="#141474"/>
<circle cx="185.08" cy="220.69" r="1.75" fill="#2424e0"/>
<circle cx="185.8" cy="182.3" r="1.79" fill="#2020c4"/>
<circle cx="184.44" cy="214.46" r="1.79" fill="#2424e0"/>
<circle cx="142.89" cy="184.89" r="1.71" fill="#2424e0"/>
<circle cx="149.68" cy="199.89" r="1.54" fill="#2020c4"/>
<circle cx="173.72" cy="178.29" r="1.76" fill="#1a1a9c"/>
<circle cx="160.47" cy="196.99" r="1.73" fill="#141474"/>
<circle cx="156.32" cy="214.57" r="1.82" fill="#2424e0"/>
<circle cx="149.46" cy="184.12" r="1.89" fill="#141474"/>
<circle cx="167.64" cy="215.15" r="1.7" fill="#1a1a9c"/>
<circle cx="158.05" cy="214.53" r="1.73" fill="#2020c4"/>
<circle cx="154.39" cy="199.85" r="1.69" fill="#141474"/>
<circle cx="183.19" cy="219.78" r="1.76" fill="#1a1a9c"/>
<circle cx="168.71" cy="193.88" r="1.74" fill="#141474"/>
<circle cx="159.07" cy="200.17" r="1.74" fill="#2424e0"/>
<circle cx="158.68" cy="189.96" r="1.73" fill="#2020c4"/>
<circle cx="142.57" cy="184.25" r="1.78" fill="#1a1a9c"/>
<circle cx="150.06" cy="177.49" r="1.52" fill="#2020c4"/>
<circle cx="187.43" cy="176.45" r="1.73" fill="#141474"/>
<circle cx="178.15" cy="186.78" r="1.55" fill="#2020c4"/>
<circle cx="171.82" cy="189.88" r="1.58" fill="#141474"/>
<circle cx="157.74" cy="174.88" r="2.2" fill="#2828f6"/>
<circle cx="148.51" cy="177.19" r="1.8" fill="#1e1eb4"/>
<circle cx="145.62" cy="182.96" r="1.8" fill="#1e1eb4"/>
<circle cx="151.97" cy="187.58" r="2.0" fill="#2222dc"/>
<circle cx="157.16" cy="186.42" r="2.0" fill="#2222dc"/>
<circle cx="142.16" cy="186.42" r="2.0" fill="#2222dc"/>
<circle cx="147.35" cy="190.46" r="1.8" fill="#1e1eb4"/>
<circle cx="164.08" cy="189.31" r="2.2" fill="#2828f6"/>
<circle cx="168.7" cy="189.31" r="2.0" fill="#2222dc"/>
<circle cx="172.74" cy="193.92" r="2.2" fill="#2828f6"/>
<circle cx="150.81" cy="196.23" r="2.0" fill="#2222dc"/>
<circle cx="143.89" cy="199.11" r="2.2" fill="#2828f6"/>
<circle cx="153.7" cy="201.42" r="2.0" fill="#2222dc"/>
<circle cx="166.39" cy="201.42" r="2.2" fill="#2828f6"/>
<circle cx="148.51" cy="202.58" r="1.8" fill="#1e1eb4"/>
<circle cx="157.74" cy="200.27" r="1.8" fill="#1e1eb4"/>
<circle cx="186.58" cy="203.73" r="2.7" fill="#3838ff"/>
<circle cx="187.74" cy="197.38" r="2.2" fill="#2828f6"/>
<circle cx="183.12" cy="199.69" r="2.0" fill="#2222dc"/>
<circle cx="184.85" cy="187" r="2.0" fill="#2222dc"/>
<circle cx="181.39" cy="179.5" r="1.8" fill="#1e1eb4"/>
<circle cx="187.74" cy="178.35" r="1.8" fill="#1e1eb4"/>
<circle cx="166.39" cy="208.92" r="2.2" fill="#2828f6"/>
<circle cx="153.12" cy="211.23" r="2.0" fill="#2222dc"/>
<circle cx="147.35" cy="211.81" r="2.2" fill="#2828f6"/>
<circle cx="142.74" cy="212.96" r="2.0" fill="#2222dc"/>
<circle cx="177.93" cy="208.92" r="2.0" fill="#2222dc"/>
<circle cx="182.54" cy="216.42" r="2.7" fill="#3838ff"/>
<circle cx="171.58" cy="216.42" r="2.2" fill="#2828f6"/>
<circle cx="166.97" cy="214.11" r="2.0" fill="#2222dc"/>
<circle cx="161.2" cy="215.27" r="1.8" fill="#1e1eb4"/>
<circle cx="177.35" cy="214.11" r="2.0" fill="#2222dc"/>
<circle cx="140.43" cy="202.58" r="1.8" fill="#1e1eb4"/>
<circle cx="176.2" cy="196.81" r="1.8" fill="#1e1eb4"/>
<circle cx="160.62" cy="195.65" r="1.8" fill="#1e1eb4"/>
<circle cx="162.93" cy="181.23" r="1.8" fill="#1e1eb4"/>
<circle cx="170.43" cy="174.88" r="1.8" fill="#1e1eb4"/>
<circle cx="143.89" cy="218.73" r="1.8" fill="#1e1eb4"/>
<circle cx="155.43" cy="218.73" r="1.8" fill="#1e1eb4"/>
<circle cx="188.89" cy="216.42" r="2.0" fill="#2222dc"/>
<circle cx="189.47" cy="211.81" r="2.0" fill="#2222dc"/>
<circle cx="173.89" cy="185.27" r="1.8" fill="#1e1eb4"/>
<circle cx="151.97" cy="181.81" r="1.8" fill="#1e1eb4"/>
<circle cx="160.05" cy="204.88" r="1.8" fill="#1e1eb4"/>
<circle cx="180.81" cy="191.04" r="1.8" fill="#1e1eb4"/>
<circle cx="171.58" cy="203.73" r="1.8" fill="#1e1eb4"/>
<circle cx="185.43" cy="174.88" r="1.8" fill="#1e1eb4"/>
<circle cx="142.74" cy="174.88" r="1.8" fill="#1e1eb4"/>
</g></g>
<clipPath id="cp4"><rect x="33.2" y="225.3" width="51.2" height="50.7"/></clipPath>
<rect x="33.2" y="225.3" width="51.2" height="50.7" fill="#040418"/>
<g clip-path="url(#cp4)"><g filter="url(#blur1)">
<circle cx="81.05" cy="272.74" r="1.55" fill="#141474"/>
<circle cx="51.89" cy="234.59" r="1.63" fill="#2020c4"/>
<circle cx="44.6" cy="228.05" r="2" fill="#1a1a9c"/>
<circle cx="65.49" cy="265.68" r="1.77" fill="#2020c4"/>
<circle cx="56" cy="239.44" r="1.94" fill="#141474"/>
<circle cx="52.04" cy="271.96" r="1.71" fill="#2424e0"/>
<circle cx="77.52" cy="234.36" r="1.62" fill="#1a1a9c"/>
<circle cx="35.37" cy="242.23" r="1.76" fill="#1a1a9c"/>
<circle cx="51.82" cy="251.47" r="2" fill="#1a1a9c"/>
<circle cx="56.04" cy="246.62" r="1.89" fill="#2020c4"/>
<circle cx="51.54" cy="274.37" r="1.58" fill="#2424e0"/>
<circle cx="71.15" cy="261.34" r="1.83" fill="#2424e0"/>
<circle cx="46.45" cy="239.98" r="1.75" fill="#2424e0"/>
<circle cx="74.94" cy="243.64" r="1.95" fill="#2424e0"/>
<circle cx="56.79" cy="254.12" r="1.74" fill="#2424e0"/>
<circle cx="45.07" cy="242.21" r="1.94" fill="#1a1a9c"/>
<circle cx="64.4" cy="264.18" r="1.65" fill="#2424e0"/>
<circle cx="81.11" cy="260.9" r="1.66" fill="#2424e0"/>
<circle cx="44.38" cy="251.38" r="1.89" fill="#141474"/>
<circle cx="50.93" cy="226.71" r="2" fill="#1a1a9c"/>
<circle cx="39.4" cy="254.45" r="1.64" fill="#141474"/>
<circle cx="45.3" cy="269.2" r="1.88" fill="#141474"/>
<circle cx="40.89" cy="239.33" r="1.97" fill="#1a1a9c"/>
<circle cx="37.16" cy="270.3" r="1.53" fill="#141474"/>
<circle cx="51.85" cy="238.53" r="1.54" fill="#141474"/>
<circle cx="80.97" cy="227.54" r="1.69" fill="#141474"/>
<circle cx="40.46" cy="272.16" r="1.76" fill="#1a1a9c"/>
<circle cx="34.29" cy="255.18" r="1.58" fill="#1a1a9c"/>
<circle cx="35.98" cy="243.17" r="1.64" fill="#141474"/>
<circle cx="58.15" cy="241.41" r="1.95" fill="#141474"/>
<circle cx="71.23" cy="268.56" r="1.74" fill="#1a1a9c"/>
<circle cx="45.25" cy="258.68" r="1.92" fill="#2020c4"/>
<circle cx="38.05" cy="227.03" r="2.0" fill="#2222dc"/>
<circle cx="60.55" cy="226.45" r="1.8" fill="#1e1eb4"/>
<circle cx="36.32" cy="235.11" r="1.8" fill="#1e1eb4"/>
<circle cx="50.74" cy="234.53" r="2.0" fill="#2222dc"/>
<circle cx="64.58" cy="232.8" r="2.2" fill="#2828f6"/>
<circle cx="72.08" cy="234.53" r="2.2" fill="#2828f6"/>
<circle cx="58.24" cy="237.41" r="2.2" fill="#2828f6"/>
<circle cx="79.01" cy="233.38" r="2.0" fill="#2222dc"/>
<circle cx="36.89" cy="243.76" r="2.2" fill="#2828f6"/>
<circle cx="51.31" cy="242.61" r="2.0" fill="#2222dc"/>
<circle cx="47.85" cy="246.07" r="2.0" fill="#2222dc"/>
<circle cx="57.08" cy="244.91" r="2.2" fill="#2828f6"/>
<circle cx="63.43" cy="242.03" r="2.0" fill="#2222dc"/>
<circle cx="39.2" cy="250.68" r="2.2" fill="#2828f6"/>
<circle cx="47.85" cy="250.11" r="2.2" fill="#2828f6"/>
<circle cx="52.47" cy="251.84" r="2.0" fill="#2222dc"/>
<circle cx="61.12" cy="249.53" r="2.2" fill="#2828f6"/>
<circle cx="63.43" cy="254.15" r="2.2" fill="#2828f6"/>
<circle cx="73.81" cy="248.95" r="2.2" fill="#2828f6"/>
<circle cx="76.12" cy="253.57" r="2.2" fill="#2828f6"/>
<circle cx="42.66" cy="256.45" r="2.2" fill="#2828f6"/>
<circle cx="52.47" cy="258.76" r="2.2" fill="#2828f6"/>
<circle cx="57.08" cy="259.34" r="2.2" fill="#2828f6"/>
<circle cx="68.04" cy="260.49" r="2.2" fill="#2828f6"/>
<circle cx="72.66" cy="261.07" r="2.2" fill="#2828f6"/>
<circle cx="62.85" cy="260.49" r="2.0" fill="#2222dc"/>
<circle cx="50.74" cy="267.41" r="2.2" fill="#2828f6"/>
<circle cx="47.28" cy="265.68" r="2.0" fill="#2222dc"/>
<circle cx="57.66" cy="266.26" r="2.0" fill="#2222dc"/>
<circle cx="40.35" cy="272.03" r="2.0" fill="#2222dc"/>
<circle cx="76.7" cy="266.26" r="2.0" fill="#2222dc"/>
<circle cx="80.74" cy="269.72" r="2.0" fill="#2222dc"/>
<circle cx="78.43" cy="258.18" r="2.0" fill="#2222dc"/>
<circle cx="35.16" cy="266.26" r="1.8" fill="#1e1eb4"/>
<circle cx="69.2" cy="269.72" r="1.8" fill="#1e1eb4"/>
<circle cx="82.47" cy="244.34" r="1.8" fill="#1e1eb4"/>
<circle cx="70.35" cy="242.03" r="1.8" fill="#1e1eb4"/>
<circle cx="44.39" cy="239.72" r="1.8" fill="#1e1eb4"/>
<circle cx="68.04" cy="228.18" r="1.8" fill="#1e1eb4"/>
<circle cx="44.97" cy="228.18" r="1.8" fill="#1e1eb4"/>
<circle cx="54.2" cy="272.03" r="1.8" fill="#1e1eb4"/>
<circle cx="64.58" cy="270.88" r="1.8" fill="#1e1eb4"/>
<circle cx="34.58" cy="258.18" r="1.8" fill="#1e1eb4"/>
<circle cx="81.89" cy="228.18" r="1.8" fill="#1e1eb4"/>
</g></g>
<clipPath id="cp5"><rect x="86.7" y="225.3" width="51.5" height="50.7"/></clipPath>
<rect x="86.7" y="225.3" width="51.5" height="50.7" fill="#140808"/>
<g clip-path="url(#cp5)"><g filter="url(#blur1)">
</g><g filter="url(#blurb)">
<circle cx="127.31" cy="232.8" r="2.3" fill="#200808" stroke="#a42222" stroke-width="1.35"/>
<circle cx="119.24" cy="233.38" r="2.3" fill="#200808" stroke="#a42222" stroke-width="1.35"/>
<circle cx="112.31" cy="237.99" r="2.3" fill="#200808" stroke="#a42222" stroke-width="1.35"/>
<circle cx="91.55" cy="235.11" r="2.3" fill="#200808" stroke="#741818" stroke-width="1.35"/>
<circle cx="93.85" cy="243.76" r="2.3" fill="#200808" stroke="#741818" stroke-width="1.35"/>
<circle cx="102.51" cy="248.95" r="2.3" fill="#200808" stroke="#a42222" stroke-width="1.35"/>
<circle cx="103.08" cy="254.72" r="2.3" fill="#200808" stroke="#a42222" stroke-width="1.35"/>
<circle cx="118.08" cy="250.11" r="2.3" fill="#200808" stroke="#741818" stroke-width="1.35"/>
<circle cx="108.85" cy="259.91" r="2.3" fill="#200808" stroke="#a42222" stroke-width="1.35"/>
<circle cx="118.08" cy="259.34" r="2.3" fill="#200808" stroke="#a42222" stroke-width="1.35"/>
<circle cx="101.93" cy="265.68" r="2.3" fill="#200808" stroke="#741818" stroke-width="1.35"/>
<circle cx="110.01" cy="266.84" r="2.3" fill="#200808" stroke="#741818" stroke-width="1.35"/>
<circle cx="134.24" cy="250.11" r="2.3" fill="#200808" stroke="#741818" stroke-width="1.35"/>
<circle cx="133.08" cy="258.18" r="2.3" fill="#200808" stroke="#741818" stroke-width="1.35"/>
<circle cx="123.85" cy="261.64" r="2.3" fill="#200808" stroke="#741818" stroke-width="1.35"/>
<circle cx="130.78" cy="265.68" r="2.3" fill="#200808" stroke="#461010" stroke-width="1.35"/>
<circle cx="95.01" cy="238.57" r="2.3" fill="#200808" stroke="#461010" stroke-width="1.35"/>
<circle cx="123.28" cy="236.26" r="2.3" fill="#200808" stroke="#741818" stroke-width="1.35"/>
<circle cx="90.39" cy="255.88" r="2.3" fill="#200808" stroke="#461010" stroke-width="1.35"/>
<circle cx="97.31" cy="259.34" r="2.3" fill="#200808" stroke="#461010" stroke-width="1.35"/>
<circle cx="115.78" cy="267.41" r="2.3" fill="#200808" stroke="#461010" stroke-width="1.35"/>
<circle cx="106.55" cy="232.8" r="2.3" fill="#200808" stroke="#461010" stroke-width="1.35"/>
<circle cx="98.47" cy="230.49" r="2.3" fill="#200808" stroke="#461010" stroke-width="1.35"/>
<circle cx="128.47" cy="242.03" r="2.3" fill="#200808" stroke="#461010" stroke-width="1.35"/>
</g></g>
<clipPath id="cp6"><rect x="140.2" y="225.3" width="51" height="50.7"/></clipPath>
<rect x="140.2" y="225.3" width="51" height="50.7" fill="#0b0622"/>
<g clip-path="url(#cp6)"><g filter="url(#blur1)">
<circle cx="188.05" cy="272.74" r="1.55" fill="#141474"/>
<circle cx="158.89" cy="234.59" r="1.63" fill="#2020c4"/>
<circle cx="151.6" cy="228.05" r="2" fill="#1a1a9c"/>
<circle cx="172.49" cy="265.68" r="1.77" fill="#2020c4"/>
<circle cx="163" cy="239.44" r="1.94" fill="#141474"/>
<circle cx="159.04" cy="271.96" r="1.71" fill="#2424e0"/>
<circle cx="184.52" cy="234.36" r="1.62" fill="#1a1a9c"/>
<circle cx="142.37" cy="242.23" r="1.76" fill="#1a1a9c"/>
<circle cx="158.82" cy="251.47" r="2" fill="#1a1a9c"/>
<circle cx="163.04" cy="246.62" r="1.89" fill="#2020c4"/>
<circle cx="158.54" cy="274.37" r="1.58" fill="#2424e0"/>
<circle cx="178.15" cy="261.34" r="1.83" fill="#2424e0"/>
<circle cx="153.45" cy="239.98" r="1.75" fill="#2424e0"/>
<circle cx="181.94" cy="243.64" r="1.95" fill="#2424e0"/>
<circle cx="163.79" cy="254.12" r="1.74" fill="#2424e0"/>
<circle cx="152.07" cy="242.21" r="1.94" fill="#1a1a9c"/>
<circle cx="171.4" cy="264.18" r="1.65" fill="#2424e0"/>
<circle cx="188.11" cy="260.9" r="1.66" fill="#2424e0"/>
<circle cx="151.38" cy="251.38" r="1.89" fill="#141474"/>
<circle cx="157.93" cy="226.71" r="2" fill="#1a1a9c"/>
<circle cx="146.4" cy="254.45" r="1.64" fill="#141474"/>
<circle cx="152.3" cy="269.2" r="1.88" fill="#141474"/>
<circle cx="147.89" cy="239.33" r="1.97" fill="#1a1a9c"/>
<circle cx="144.16" cy="270.3" r="1.53" fill="#141474"/>
<circle cx="158.85" cy="238.53" r="1.54" fill="#141474"/>
<circle cx="187.97" cy="227.54" r="1.69" fill="#141474"/>
<circle cx="147.46" cy="272.16" r="1.76" fill="#1a1a9c"/>
<circle cx="141.29" cy="255.18" r="1.58" fill="#1a1a9c"/>
<circle cx="142.98" cy="243.17" r="1.64" fill="#141474"/>
<circle cx="165.15" cy="241.41" r="1.95" fill="#141474"/>
<circle cx="178.23" cy="268.56" r="1.74" fill="#1a1a9c"/>
<circle cx="152.25" cy="258.68" r="1.92" fill="#2020c4"/>
<circle cx="145.05" cy="227.03" r="2.0" fill="#2222dc"/>
<circle cx="167.55" cy="226.45" r="1.8" fill="#1e1eb4"/>
<circle cx="143.32" cy="235.11" r="1.8" fill="#1e1eb4"/>
<circle cx="157.74" cy="234.53" r="2.0" fill="#2222dc"/>
<circle cx="171.58" cy="232.8" r="2.2" fill="#2828f6"/>
<circle cx="179.08" cy="234.53" r="2.2" fill="#2828f6"/>
<circle cx="165.24" cy="237.41" r="2.2" fill="#2828f6"/>
<circle cx="186.01" cy="233.38" r="2.0" fill="#2222dc"/>
<circle cx="143.89" cy="243.76" r="2.2" fill="#2828f6"/>
<circle cx="158.31" cy="242.61" r="2.0" fill="#2222dc"/>
<circle cx="154.85" cy="246.07" r="2.0" fill="#2222dc"/>
<circle cx="164.08" cy="244.91" r="2.2" fill="#2828f6"/>
<circle cx="170.43" cy="242.03" r="2.0" fill="#2222dc"/>
<circle cx="146.2" cy="250.68" r="2.2" fill="#2828f6"/>
<circle cx="154.85" cy="250.11" r="2.2" fill="#2828f6"/>
<circle cx="159.47" cy="251.84" r="2.0" fill="#2222dc"/>
<circle cx="168.12" cy="249.53" r="2.2" fill="#2828f6"/>
<circle cx="170.43" cy="254.15" r="2.2" fill="#2828f6"/>
<circle cx="180.81" cy="248.95" r="2.2" fill="#2828f6"/>
<circle cx="183.12" cy="253.57" r="2.2" fill="#2828f6"/>
<circle cx="149.66" cy="256.45" r="2.2" fill="#2828f6"/>
<circle cx="159.47" cy="258.76" r="2.2" fill="#2828f6"/>
<circle cx="164.08" cy="259.34" r="2.2" fill="#2828f6"/>
<circle cx="175.04" cy="260.49" r="2.2" fill="#2828f6"/>
<circle cx="179.66" cy="261.07" r="2.2" fill="#2828f6"/>
<circle cx="169.85" cy="260.49" r="2.0" fill="#2222dc"/>
<circle cx="157.74" cy="267.41" r="2.2" fill="#2828f6"/>
<circle cx="154.28" cy="265.68" r="2.0" fill="#2222dc"/>
<circle cx="164.66" cy="266.26" r="2.0" fill="#2222dc"/>
<circle cx="147.35" cy="272.03" r="2.0" fill="#2222dc"/>
<circle cx="183.7" cy="266.26" r="2.0" fill="#2222dc"/>
<circle cx="187.74" cy="269.72" r="2.0" fill="#2222dc"/>
<circle cx="185.43" cy="258.18" r="2.0" fill="#2222dc"/>
<circle cx="142.16" cy="266.26" r="1.8" fill="#1e1eb4"/>
<circle cx="176.2" cy="269.72" r="1.8" fill="#1e1eb4"/>
<circle cx="189.47" cy="244.34" r="1.8" fill="#1e1eb4"/>
<circle cx="177.35" cy="242.03" r="1.8" fill="#1e1eb4"/>
<circle cx="151.39" cy="239.72" r="1.8" fill="#1e1eb4"/>
<circle cx="175.04" cy="228.18" r="1.8" fill="#1e1eb4"/>
<circle cx="151.97" cy="228.18" r="1.8" fill="#1e1eb4"/>
<circle cx="161.2" cy="272.03" r="1.8" fill="#1e1eb4"/>
<circle cx="171.58" cy="270.88" r="1.8" fill="#1e1eb4"/>
<circle cx="141.58" cy="258.18" r="1.8" fill="#1e1eb4"/>
<circle cx="188.89" cy="228.18" r="1.8" fill="#1e1eb4"/>
</g><g filter="url(#blurb)">
<circle cx="180.81" cy="232.8" r="2.5" fill="#d02858" fill-opacity="0.15" stroke="#d02858" stroke-width="1.4" stroke-opacity="0.55"/>
<circle cx="172.74" cy="233.38" r="2.5" fill="#d02858" fill-opacity="0.15" stroke="#d02858" stroke-width="1.4" stroke-opacity="0.55"/>
<circle cx="165.81" cy="237.99" r="2.5" fill="#d02858" fill-opacity="0.15" stroke="#d02858" stroke-width="1.4" stroke-opacity="0.55"/>
<circle cx="145.05" cy="235.11" r="2.5" fill="#a81e4c" fill-opacity="0.15" stroke="#a81e4c" stroke-width="1.4" stroke-opacity="0.55"/>
<circle cx="147.35" cy="243.76" r="2.5" fill="#a81e4c" fill-opacity="0.15" stroke="#a81e4c" stroke-width="1.4" stroke-opacity="0.55"/>
<circle cx="156.01" cy="248.95" r="2.5" fill="#d02858" fill-opacity="0.15" stroke="#d02858" stroke-width="1.4" stroke-opacity="0.55"/>
<circle cx="156.58" cy="254.72" r="2.5" fill="#d02858" fill-opacity="0.15" stroke="#d02858" stroke-width="1.4" stroke-opacity="0.55"/>
<circle cx="171.58" cy="250.11" r="2.5" fill="#a81e4c" fill-opacity="0.15" stroke="#a81e4c" stroke-width="1.4" stroke-opacity="0.55"/>
<circle cx="162.35" cy="259.91" r="2.5" fill="#d02858" fill-opacity="0.15" stroke="#d02858" stroke-width="1.4" stroke-opacity="0.55"/>
<circle cx="171.58" cy="259.34" r="2.5" fill="#d02858" fill-opacity="0.15" stroke="#d02858" stroke-width="1.4" stroke-opacity="0.55"/>
<circle cx="155.43" cy="265.68" r="2.5" fill="#a81e4c" fill-opacity="0.15" stroke="#a81e4c" stroke-width="1.4" stroke-opacity="0.55"/>
<circle cx="163.51" cy="266.84" r="2.5" fill="#a81e4c" fill-opacity="0.15" stroke="#a81e4c" stroke-width="1.4" stroke-opacity="0.55"/>
<circle cx="187.74" cy="250.11" r="2.5" fill="#a81e4c" fill-opacity="0.15" stroke="#a81e4c" stroke-width="1.4" stroke-opacity="0.55"/>
<circle cx="186.58" cy="258.18" r="2.5" fill="#a81e4c" fill-opacity="0.15" stroke="#a81e4c" stroke-width="1.4" stroke-opacity="0.55"/>
<circle cx="177.35" cy="261.64" r="2.5" fill="#a81e4c" fill-opacity="0.15" stroke="#a81e4c" stroke-width="1.4" stroke-opacity="0.55"/>
<circle cx="184.28" cy="265.68" r="2.5" fill="#74163c" fill-opacity="0.15" stroke="#74163c" stroke-width="1.4" stroke-opacity="0.55"/>
<circle cx="148.51" cy="238.57" r="2.5" fill="#74163c" fill-opacity="0.15" stroke="#74163c" stroke-width="1.4" stroke-opacity="0.55"/>
<circle cx="176.78" cy="236.26" r="2.5" fill="#a81e4c" fill-opacity="0.15" stroke="#a81e4c" stroke-width="1.4" stroke-opacity="0.55"/>
<circle cx="143.89" cy="255.88" r="2.5" fill="#74163c" fill-opacity="0.15" stroke="#74163c" stroke-width="1.4" stroke-opacity="0.55"/>
<circle cx="150.81" cy="259.34" r="2.5" fill="#74163c" fill-opacity="0.15" stroke="#74163c" stroke-width="1.4" stroke-opacity="0.55"/>
<circle cx="169.28" cy="267.41" r="2.5" fill="#74163c" fill-opacity="0.15" stroke="#74163c" stroke-width="1.4" stroke-opacity="0.55"/>
<circle cx="160.05" cy="232.8" r="2.5" fill="#74163c" fill-opacity="0.15" stroke="#74163c" stroke-width="1.4" stroke-opacity="0.55"/>
<circle cx="151.97" cy="230.49" r="2.5" fill="#74163c" fill-opacity="0.15" stroke="#74163c" stroke-width="1.4" stroke-opacity="0.55"/>
<circle cx="181.97" cy="242.03" r="2.5" fill="#74163c" fill-opacity="0.15" stroke="#74163c" stroke-width="1.4" stroke-opacity="0.55"/>
</g></g>
<line x1="244.5" y1="181.5" x2="244.5" y2="263.1" stroke="#111111" stroke-width="1.35"/>
<line x1="241.5" y1="184.5" x2="244.5" y2="184.5" stroke="#111111" stroke-width="1"/>
<text x="238.75" y="187.35" font-size="8" text-anchor="end" fill="#1e1e1e" stroke="#1e1e1e" stroke-width="0.14">600</text>
<line x1="241.5" y1="210.5" x2="244.5" y2="210.5" stroke="#111111" stroke-width="1"/>
<text x="238.75" y="213.35" font-size="8" text-anchor="end" fill="#1e1e1e" stroke="#1e1e1e" stroke-width="0.14">400</text>
<line x1="241.5" y1="236.5" x2="244.5" y2="236.5" stroke="#111111" stroke-width="1"/>
<text x="238.75" y="239.35" font-size="8" text-anchor="end" fill="#1e1e1e" stroke="#1e1e1e" stroke-width="0.14">200</text>
<line x1="241.5" y1="262.5" x2="244.5" y2="262.5" stroke="#111111" stroke-width="1"/>
<text x="238.75" y="265.35" font-size="8" text-anchor="end" fill="#1e1e1e" stroke="#1e1e1e" stroke-width="0.14">0</text>
<line x1="242.7" y1="191" x2="244.5" y2="191" stroke="#111111" stroke-width="0.7"/>
<line x1="242.7" y1="197.5" x2="244.5" y2="197.5" stroke="#111111" stroke-width="0.7"/>
<line x1="242.7" y1="204" x2="244.5" y2="204" stroke="#111111" stroke-width="0.7"/>
<line x1="242.7" y1="217" x2="244.5" y2="217" stroke="#111111" stroke-width="0.7"/>
<line x1="242.7" y1="223.5" x2="244.5" y2="223.5" stroke="#111111" stroke-width="0.7"/>
<line x1="242.7" y1="230" x2="244.5" y2="230" stroke="#111111" stroke-width="0.7"/>
<line x1="242.7" y1="243" x2="244.5" y2="243" stroke="#111111" stroke-width="0.7"/>
<line x1="242.7" y1="249.5" x2="244.5" y2="249.5" stroke="#111111" stroke-width="0.7"/>
<line x1="242.7" y1="256" x2="244.5" y2="256" stroke="#111111" stroke-width="0.7"/>
<line x1="243.9" y1="262.5" x2="322.5" y2="262.5" stroke="#111111" stroke-width="1.35"/>
<line x1="264.2" y1="262.5" x2="264.2" y2="265.3" stroke="#111111" stroke-width="1"/>
<line x1="303" y1="262.5" x2="303" y2="265.3" stroke="#111111" stroke-width="1"/>
<text transform="translate(206.6,221.5) rotate(-90)" font-size="7.4" text-anchor="middle" textLength="83" lengthAdjust="spacingAndGlyphs" fill="#1e1e1e" stroke="#222" stroke-width="0.24">Mean fluorescence intensity</text>
<text transform="translate(219.6,222.25) rotate(-90)" font-size="7.4" text-anchor="middle" textLength="45.5" lengthAdjust="spacingAndGlyphs" fill="#1e1e1e" stroke="#222" stroke-width="0.24">(arbitrary units)</text>
<text x="251.75" y="276.25" font-size="7.7" textLength="25" lengthAdjust="spacingAndGlyphs" fill="#1e1e1e" stroke="#1e1e1e" stroke-width="0.14">Control</text>
<text x="287" y="276.25" font-size="7.7" textLength="32.5" lengthAdjust="spacingAndGlyphs" fill="#1e1e1e" stroke="#1e1e1e" stroke-width="0.14">Curcumin</text>
<path d="M258.75,180 V176.25 H303.75 V180" stroke="#111111" stroke-width="1" fill="none"/>
<text x="281.25" y="175" font-size="8.6" text-anchor="middle" font-weight="bold" fill="#111" stroke="#111" stroke-width="0.14">***</text>
<path d="M258.2,251.4 L260.3,255.2 L256.1,255.2 Z" fill="#161c3a"/>
<path d="M258.2,254.4 L260.3,258.2 L256.1,258.2 Z" fill="#161c3a"/>
<path d="M258.2,257.4 L260.3,261.2 L256.1,261.2 Z" fill="#161c3a"/>
<path d="M264.2,251.4 L266.3,255.2 L262.1,255.2 Z" fill="#161c3a"/>
<path d="M264.2,254.4 L266.3,258.2 L262.1,258.2 Z" fill="#161c3a"/>
<path d="M264.2,257.4 L266.3,261.2 L262.1,261.2 Z" fill="#161c3a"/>
<path d="M270,251.4 L272.1,255.2 L267.9,255.2 Z" fill="#161c3a"/>
<path d="M270,254.4 L272.1,258.2 L267.9,258.2 Z" fill="#161c3a"/>
<path d="M270,257.4 L272.1,261.2 L267.9,261.2 Z" fill="#161c3a"/>
<path d="M255.2,258.8 L257.3,262.6 L253.1,262.6 Z" fill="#161c3a"/>
<path d="M261.2,258.8 L263.3,262.6 L259.1,262.6 Z" fill="#161c3a"/>
<path d="M267.2,258.8 L269.3,262.6 L265.1,262.6 Z" fill="#161c3a"/>
<path d="M273.2,258.8 L275.3,262.6 L271.1,262.6 Z" fill="#161c3a"/>
<path d="M258.2,258.8 L260.3,262.6 L256.1,262.6 Z" fill="#161c3a"/>
<path d="M264.2,258.8 L266.3,262.6 L262.1,262.6 Z" fill="#161c3a"/>
<path d="M270,258.8 L272.1,262.6 L267.9,262.6 Z" fill="#161c3a"/>
<path d="M253.2,262.3 L255.6,258 L257,259 L258.2,256.6 L259.8,259 L261.2,257.4 L262.6,259 L264.2,256.6 L265.8,259 L267.2,257.4 L268.6,259 L270,256.6 L271.4,259 L272.8,258 L275.2,262.3 Z" fill="#161c3a"/>
<line x1="251" y1="258.3" x2="277" y2="258.3" stroke="#111111" stroke-width="1.1"/>
<rect x="307.85" y="183.35" width="2.5" height="2.5" fill="#2c325c" stroke="#10132e" stroke-width="0.9"/>
<rect x="301.65" y="188.85" width="2.5" height="2.5" fill="#2c325c" stroke="#10132e" stroke-width="0.9"/>
<rect x="296.05" y="200.65" width="2.5" height="2.5" fill="#2c325c" stroke="#10132e" stroke-width="0.9"/>
<rect x="301.65" y="203.25" width="2.5" height="2.5" fill="#2c325c" stroke="#10132e" stroke-width="0.9"/>
<rect x="298.25" y="205.55" width="2.5" height="2.5" fill="#2c325c" stroke="#10132e" stroke-width="0.9"/>
<rect x="296.05" y="207.45" width="2.5" height="2.5" fill="#2c325c" stroke="#10132e" stroke-width="0.9"/>
<rect x="304.85" y="206.95" width="2.5" height="2.5" fill="#2c325c" stroke="#10132e" stroke-width="0.9"/>
<rect x="307.85" y="208.05" width="2.5" height="2.5" fill="#2c325c" stroke="#10132e" stroke-width="0.9"/>
<rect x="301.65" y="210.65" width="2.5" height="2.5" fill="#2c325c" stroke="#10132e" stroke-width="0.9"/>
<rect x="304.85" y="212.85" width="2.5" height="2.5" fill="#2c325c" stroke="#10132e" stroke-width="0.9"/>
<rect x="296.05" y="215.85" width="2.5" height="2.5" fill="#2c325c" stroke="#10132e" stroke-width="0.9"/>
<rect x="301.65" y="216.25" width="2.5" height="2.5" fill="#2c325c" stroke="#10132e" stroke-width="0.9"/>
<rect x="307.85" y="215.85" width="2.5" height="2.5" fill="#2c325c" stroke="#10132e" stroke-width="0.9"/>
<rect x="310.75" y="216.55" width="2.5" height="2.5" fill="#2c325c" stroke="#10132e" stroke-width="0.9"/>
<rect x="298.95" y="218.75" width="2.5" height="2.5" fill="#2c325c" stroke="#10132e" stroke-width="0.9"/>
<rect x="304.85" y="218.75" width="2.5" height="2.5" fill="#2c325c" stroke="#10132e" stroke-width="0.9"/>
<rect x="296.05" y="221.75" width="2.5" height="2.5" fill="#2c325c" stroke="#10132e" stroke-width="0.9"/>
<rect x="301.65" y="221.75" width="2.5" height="2.5" fill="#2c325c" stroke="#10132e" stroke-width="0.9"/>
<rect x="304.85" y="222.45" width="2.5" height="2.5" fill="#2c325c" stroke="#10132e" stroke-width="0.9"/>
<rect x="307.85" y="222.45" width="2.5" height="2.5" fill="#2c325c" stroke="#10132e" stroke-width="0.9"/>
<rect x="296.05" y="224.65" width="2.5" height="2.5" fill="#2c325c" stroke="#10132e" stroke-width="0.9"/>
<rect x="301.65" y="224.65" width="2.5" height="2.5" fill="#2c325c" stroke="#10132e" stroke-width="0.9"/>
<rect x="304.85" y="225.45" width="2.5" height="2.5" fill="#2c325c" stroke="#10132e" stroke-width="0.9"/>
<rect x="296.05" y="227.65" width="2.5" height="2.5" fill="#2c325c" stroke="#10132e" stroke-width="0.9"/>
<rect x="301.65" y="228.35" width="2.5" height="2.5" fill="#2c325c" stroke="#10132e" stroke-width="0.9"/>
<rect x="307.85" y="227.65" width="2.5" height="2.5" fill="#2c325c" stroke="#10132e" stroke-width="0.9"/>
<rect x="296.05" y="230.55" width="2.5" height="2.5" fill="#2c325c" stroke="#10132e" stroke-width="0.9"/>
<rect x="301.65" y="232.05" width="2.5" height="2.5" fill="#2c325c" stroke="#10132e" stroke-width="0.9"/>
<rect x="304.85" y="232.75" width="2.5" height="2.5" fill="#2c325c" stroke="#10132e" stroke-width="0.9"/>
<rect x="307.85" y="233.05" width="2.5" height="2.5" fill="#2c325c" stroke="#10132e" stroke-width="0.9"/>
<rect x="296.05" y="233.55" width="2.5" height="2.5" fill="#2c325c" stroke="#10132e" stroke-width="0.9"/>
<rect x="301.65" y="236.45" width="2.5" height="2.5" fill="#2c325c" stroke="#10132e" stroke-width="0.9"/>
<rect x="296.05" y="244.55" width="2.5" height="2.5" fill="#2c325c" stroke="#10132e" stroke-width="0.9"/>
<rect x="296.05" y="249.35" width="2.5" height="2.5" fill="#2c325c" stroke="#10132e" stroke-width="0.9"/>
<rect x="301.65" y="248.25" width="2.5" height="2.5" fill="#2c325c" stroke="#10132e" stroke-width="0.9"/>
<rect x="307.85" y="252.75" width="2.5" height="2.5" fill="#2c325c" stroke="#10132e" stroke-width="0.9"/>
<rect x="301.65" y="254.95" width="2.5" height="2.5" fill="#2c325c" stroke="#10132e" stroke-width="0.9"/>
<line x1="290.2" y1="223.5" x2="316.2" y2="223.5" stroke="#111111" stroke-width="1"/>
<text x="338.4" y="162.3" font-size="10.3" font-weight="bold" fill="#000" stroke="#000" stroke-width="0.25">E</text>
<line x1="380" y1="178.25" x2="380" y2="263.1" stroke="#111111" stroke-width="1.35"/>
<line x1="377" y1="190.75" x2="380" y2="190.75" stroke="#111111" stroke-width="1"/>
<text x="376.75" y="193.6" font-size="8" text-anchor="end" fill="#1e1e1e" stroke="#1e1e1e" stroke-width="0.14">0.3</text>
<line x1="377" y1="214.5" x2="380" y2="214.5" stroke="#111111" stroke-width="1"/>
<text x="376.75" y="217.35" font-size="8" text-anchor="end" fill="#1e1e1e" stroke="#1e1e1e" stroke-width="0.14">0.2</text>
<line x1="377" y1="238.5" x2="380" y2="238.5" stroke="#111111" stroke-width="1"/>
<text x="376.75" y="241.35" font-size="8" text-anchor="end" fill="#1e1e1e" stroke="#1e1e1e" stroke-width="0.14">0.1</text>
<line x1="377" y1="262.5" x2="380" y2="262.5" stroke="#111111" stroke-width="1"/>
<text x="376.75" y="265.35" font-size="8" text-anchor="end" fill="#1e1e1e" stroke="#1e1e1e" stroke-width="0.14">0.0</text>
<line x1="378.2" y1="195.5" x2="380" y2="195.5" stroke="#111111" stroke-width="0.7"/>
<line x1="378.2" y1="200.25" x2="380" y2="200.25" stroke="#111111" stroke-width="0.7"/>
<line x1="378.2" y1="205" x2="380" y2="205" stroke="#111111" stroke-width="0.7"/>
<line x1="378.2" y1="209.75" x2="380" y2="209.75" stroke="#111111" stroke-width="0.7"/>
<line x1="378.2" y1="219.3" x2="380" y2="219.3" stroke="#111111" stroke-width="0.7"/>
<line x1="378.2" y1="224.1" x2="380" y2="224.1" stroke="#111111" stroke-width="0.7"/>
<line x1="378.2" y1="228.9" x2="380" y2="228.9" stroke="#111111" stroke-width="0.7"/>
<line x1="378.2" y1="233.7" x2="380" y2="233.7" stroke="#111111" stroke-width="0.7"/>
<line x1="378.2" y1="243.3" x2="380" y2="243.3" stroke="#111111" stroke-width="0.7"/>
<line x1="378.2" y1="248.1" x2="380" y2="248.1" stroke="#111111" stroke-width="0.7"/>
<line x1="378.2" y1="252.9" x2="380" y2="252.9" stroke="#111111" stroke-width="0.7"/>
<line x1="378.2" y1="257.7" x2="380" y2="257.7" stroke="#111111" stroke-width="0.7"/>
<line x1="379.4" y1="262.5" x2="436.5" y2="262.5" stroke="#111111" stroke-width="1.35"/>
<text transform="translate(347.3,220.25) rotate(-90)" font-size="7.4" text-anchor="middle" textLength="30" lengthAdjust="spacingAndGlyphs" fill="#1e1e1e" stroke="#222" stroke-width="0.24">TF activity</text>
<text transform="translate(358,220.75) rotate(-90)" font-size="7.4" text-anchor="middle" textLength="66.5" lengthAdjust="spacingAndGlyphs" fill="#1e1e1e" stroke="#222" stroke-width="0.24">FXa generated nM/min</text>
<line x1="390.4" y1="237.75" x2="390.4" y2="239.5" stroke="#111" stroke-width="1"/>
<line x1="386.96" y1="237.75" x2="393.84" y2="237.75" stroke="#111" stroke-width="1"/>
<rect x="384.15" y="239" width="12.5" height="23.5" fill="#ae0a2e"/>
<line x1="390.4" y1="262.5" x2="390.4" y2="265.3" stroke="#111111" stroke-width="1"/>
<line x1="409.2" y1="181.7" x2="409.2" y2="189.5" stroke="#111" stroke-width="1"/>
<line x1="405.76" y1="181.7" x2="412.64" y2="181.7" stroke="#111" stroke-width="1"/>
<rect x="402.95" y="189" width="12.5" height="73.5" fill="#ae0a2e"/>
<line x1="409.2" y1="262.5" x2="409.2" y2="265.3" stroke="#111111" stroke-width="1"/>
<line x1="427.9" y1="240.75" x2="427.9" y2="243.75" stroke="#111" stroke-width="1"/>
<line x1="424.46" y1="240.75" x2="431.34" y2="240.75" stroke="#111" stroke-width="1"/>
<rect x="421.65" y="243.25" width="12.5" height="19.25" fill="#ae0a2e"/>
<line x1="427.9" y1="262.5" x2="427.9" y2="265.3" stroke="#111111" stroke-width="1"/>
<path d="M406.5,179.4 H427.5 V230" stroke="#111111" stroke-width="1" fill="none"/>
<text x="428" y="240.5" font-size="8.6" text-anchor="middle" font-weight="bold" fill="#111" stroke="#111" stroke-width="0.14">**</text>
<circle cx="390.4" cy="273.75" r="0.65" fill="#8a8084"/>
<circle cx="409.2" cy="273.75" r="0.65" fill="#8a8084"/>
<line x1="425.8" y1="273.75" x2="430" y2="273.75" stroke="#555" stroke-width="0.95"/>
<line x1="427.9" y1="271.65" x2="427.9" y2="275.85" stroke="#555" stroke-width="0.95"/>
<circle cx="390.4" cy="285.25" r="0.65" fill="#8a8084"/>
<line x1="407.1" y1="285.25" x2="411.3" y2="285.25" stroke="#555" stroke-width="0.95"/>
<line x1="409.2" y1="283.15" x2="409.2" y2="287.35" stroke="#555" stroke-width="0.95"/>
<line x1="425.8" y1="285.25" x2="430" y2="285.25" stroke="#555" stroke-width="0.95"/>
<line x1="427.9" y1="283.15" x2="427.9" y2="287.35" stroke="#555" stroke-width="0.95"/>
<text x="440" y="276.25" font-size="7.7" textLength="33.25" lengthAdjust="spacingAndGlyphs" fill="#1e1e1e" stroke="#1e1e1e" stroke-width="0.14">Annexin V</text>
<text x="440" y="287.75" font-size="7.7" textLength="32.5" lengthAdjust="spacingAndGlyphs" fill="#1e1e1e" stroke="#1e1e1e" stroke-width="0.14">Curcumin</text>
<text x="6.6" y="315.8" font-size="10.3" font-weight="bold" fill="#000" stroke="#000" stroke-width="0.25">F</text>
<line x1="54" y1="323.5" x2="54" y2="403.85" stroke="#111111" stroke-width="1.35"/>
<line x1="51" y1="326" x2="54" y2="326" stroke="#111111" stroke-width="1"/>
<text x="47.5" y="328.85" font-size="8" text-anchor="end" fill="#1e1e1e" stroke="#1e1e1e" stroke-width="0.14">0.20</text>
<line x1="51" y1="345.25" x2="54" y2="345.25" stroke="#111111" stroke-width="1"/>
<text x="47.5" y="348.1" font-size="8" text-anchor="end" fill="#1e1e1e" stroke="#1e1e1e" stroke-width="0.14">0.15</text>
<line x1="51" y1="364.5" x2="54" y2="364.5" stroke="#111111" stroke-width="1"/>
<text x="47.5" y="367.35" font-size="8" text-anchor="end" fill="#1e1e1e" stroke="#1e1e1e" stroke-width="0.14">0.10</text>
<line x1="51" y1="384" x2="54" y2="384" stroke="#111111" stroke-width="1"/>
<text x="47.5" y="386.85" font-size="8" text-anchor="end" fill="#1e1e1e" stroke="#1e1e1e" stroke-width="0.14">0.05</text>
<line x1="51" y1="403.25" x2="54" y2="403.25" stroke="#111111" stroke-width="1"/>
<text x="47.5" y="406.1" font-size="8" text-anchor="end" fill="#1e1e1e" stroke="#1e1e1e" stroke-width="0.14">0.00</text>
<line x1="52.2" y1="329.85" x2="54" y2="329.85" stroke="#111111" stroke-width="0.7"/>
<line x1="52.2" y1="333.7" x2="54" y2="333.7" stroke="#111111" stroke-width="0.7"/>
<line x1="52.2" y1="337.55" x2="54" y2="337.55" stroke="#111111" stroke-width="0.7"/>
<line x1="52.2" y1="341.4" x2="54" y2="341.4" stroke="#111111" stroke-width="0.7"/>
<line x1="52.2" y1="349.1" x2="54" y2="349.1" stroke="#111111" stroke-width="0.7"/>
<line x1="52.2" y1="352.95" x2="54" y2="352.95" stroke="#111111" stroke-width="0.7"/>
<line x1="52.2" y1="356.8" x2="54" y2="356.8" stroke="#111111" stroke-width="0.7"/>
<line x1="52.2" y1="360.65" x2="54" y2="360.65" stroke="#111111" stroke-width="0.7"/>
<line x1="52.2" y1="368.4" x2="54" y2="368.4" stroke="#111111" stroke-width="0.7"/>
<line x1="52.2" y1="372.3" x2="54" y2="372.3" stroke="#111111" stroke-width="0.7"/>
<line x1="52.2" y1="376.2" x2="54" y2="376.2" stroke="#111111" stroke-width="0.7"/>
<line x1="52.2" y1="380.1" x2="54" y2="380.1" stroke="#111111" stroke-width="0.7"/>
<line x1="52.2" y1="387.85" x2="54" y2="387.85" stroke="#111111" stroke-width="0.7"/>
<line x1="52.2" y1="391.7" x2="54" y2="391.7" stroke="#111111" stroke-width="0.7"/>
<line x1="52.2" y1="395.55" x2="54" y2="395.55" stroke="#111111" stroke-width="0.7"/>
<line x1="52.2" y1="399.4" x2="54" y2="399.4" stroke="#111111" stroke-width="0.7"/>
<line x1="53.4" y1="403.25" x2="172" y2="403.25" stroke="#111111" stroke-width="1.35"/>
<text transform="translate(14,363.4) rotate(-90)" font-size="7.4" text-anchor="middle" textLength="29.75" lengthAdjust="spacingAndGlyphs" fill="#1e1e1e" stroke="#222" stroke-width="0.24">TF activity</text>
<text transform="translate(26,363.4) rotate(-90)" font-size="7.4" text-anchor="middle" textLength="68.75" lengthAdjust="spacingAndGlyphs" fill="#1e1e1e" stroke="#222" stroke-width="0.24">FXa generated, nM/min</text>
<line x1="77" y1="403.25" x2="77" y2="406.5" stroke="#111111" stroke-width="1"/>
<line x1="100" y1="403.25" x2="100" y2="406.5" stroke="#111111" stroke-width="1"/>
<line x1="123.25" y1="403.25" x2="123.25" y2="406.5" stroke="#111111" stroke-width="1"/>
<line x1="146.25" y1="403.25" x2="146.25" y2="406.5" stroke="#111111" stroke-width="1"/>
<line x1="169.25" y1="403.25" x2="169.25" y2="406.5" stroke="#111111" stroke-width="1"/>
<polyline points="77,394 100,390.75 123.25,385.5 146.25,354.75" fill="none" stroke="#ae0a2e" stroke-width="1.5"/>
<circle cx="77" cy="394" r="2.2" fill="#ae0a2e"/>
<line x1="100" y1="387" x2="100" y2="394.5" stroke="#111" stroke-width="1"/>
<line x1="97.8" y1="387" x2="102.2" y2="387" stroke="#111" stroke-width="1"/>
<line x1="97.8" y1="394.5" x2="102.2" y2="394.5" stroke="#111" stroke-width="1"/>
<circle cx="100" cy="390.75" r="2.2" fill="#ae0a2e"/>
<line x1="123.25" y1="382" x2="123.25" y2="389" stroke="#111" stroke-width="1"/>
<line x1="121.05" y1="382" x2="125.45" y2="382" stroke="#111" stroke-width="1"/>
<line x1="121.05" y1="389" x2="125.45" y2="389" stroke="#111" stroke-width="1"/>
<circle cx="123.25" cy="385.5" r="2.2" fill="#ae0a2e"/>
<line x1="146.25" y1="346.5" x2="146.25" y2="362.75" stroke="#111" stroke-width="1"/>
<line x1="144.05" y1="346.5" x2="148.45" y2="346.5" stroke="#111" stroke-width="1"/>
<line x1="144.05" y1="362.75" x2="148.45" y2="362.75" stroke="#111" stroke-width="1"/>
<circle cx="146.25" cy="354.75" r="2.2" fill="#ae0a2e"/>
<polyline points="77,394 100,390.75 123.25,391 146.25,374.5" fill="none" stroke="#233a73" stroke-width="1.5"/>
<rect x="74.9" y="391.9" width="4.2" height="4.2" fill="#233a73"/>
<line x1="100" y1="387" x2="100" y2="394.5" stroke="#111" stroke-width="1"/>
<line x1="97.8" y1="387" x2="102.2" y2="387" stroke="#111" stroke-width="1"/>
<line x1="97.8" y1="394.5" x2="102.2" y2="394.5" stroke="#111" stroke-width="1"/>
<rect x="97.9" y="388.65" width="4.2" height="4.2" fill="#233a73"/>
<line x1="123.25" y1="387" x2="123.25" y2="394.5" stroke="#111" stroke-width="1"/>
<line x1="121.05" y1="387" x2="125.45" y2="387" stroke="#111" stroke-width="1"/>
<line x1="121.05" y1="394.5" x2="125.45" y2="394.5" stroke="#111" stroke-width="1"/>
<rect x="121.15" y="388.9" width="4.2" height="4.2" fill="#233a73"/>
<line x1="146.25" y1="369.5" x2="146.25" y2="379" stroke="#111" stroke-width="1"/>
<line x1="144.05" y1="369.5" x2="148.45" y2="369.5" stroke="#111" stroke-width="1"/>
<line x1="144.05" y1="379" x2="148.45" y2="379" stroke="#111" stroke-width="1"/>
<rect x="144.15" y="372.4" width="4.2" height="4.2" fill="#233a73"/>
<line x1="60" y1="327.75" x2="73.75" y2="327.75" stroke="#ae0a2e" stroke-width="1.5"/>
<circle cx="67" cy="327.75" r="2.1" fill="#ae0a2e"/>
<text x="76.75" y="330.4" font-size="7.7" textLength="47.5" lengthAdjust="spacingAndGlyphs" fill="#1e1e1e" stroke="#1e1e1e" stroke-width="0.14">Auranofin (µM)</text>
<line x1="60" y1="341.5" x2="73.75" y2="341.5" stroke="#233a73" stroke-width="1.5"/>
<rect x="64.9" y="339.4" width="4.2" height="4.2" fill="#233a73"/>
<text x="76.75" y="344.2" font-size="7.7" textLength="47.75" lengthAdjust="spacingAndGlyphs" fill="#1e1e1e" stroke="#1e1e1e" stroke-width="0.14">PMX-464 (µM)</text>
<text x="77" y="416.5" font-size="7.7" text-anchor="middle" fill="#1e1e1e" stroke="#1e1e1e" stroke-width="0.14">0</text>
<text x="77" y="429" font-size="7.7" text-anchor="middle" fill="#1e1e1e" stroke="#1e1e1e" stroke-width="0.14">0</text>
<text x="100" y="416.5" font-size="7.7" text-anchor="middle" fill="#1e1e1e" stroke="#1e1e1e" stroke-width="0.14">1</text>
<text x="100" y="429" font-size="7.7" text-anchor="middle" fill="#1e1e1e" stroke="#1e1e1e" stroke-width="0.14">50</text>
<text x="123.25" y="416.5" font-size="7.7" text-anchor="middle" fill="#1e1e1e" stroke="#1e1e1e" stroke-width="0.14">5</text>
<text x="123.25" y="429" font-size="7.7" text-anchor="middle" fill="#1e1e1e" stroke="#1e1e1e" stroke-width="0.14">100</text>
<text x="146.25" y="416.5" font-size="7.7" text-anchor="middle" fill="#1e1e1e" stroke="#1e1e1e" stroke-width="0.14">10</text>
<text x="146.25" y="429" font-size="7.7" text-anchor="middle" fill="#1e1e1e" stroke="#1e1e1e" stroke-width="0.14">250</text>
<text x="159.25" y="416.5" font-size="7.7" textLength="32.75" lengthAdjust="spacingAndGlyphs" fill="#1e1e1e" stroke="#1e1e1e" stroke-width="0.14">Auranofin</text>
<text x="159.25" y="429" font-size="7.7" textLength="32.75" lengthAdjust="spacingAndGlyphs" fill="#1e1e1e" stroke="#1e1e1e" stroke-width="0.14">PMX-464</text>
<text x="202.2" y="315.8" font-size="10.3" font-weight="bold" fill="#000" stroke="#000" stroke-width="0.25">G</text>
<line x1="244.25" y1="330.25" x2="244.25" y2="403.85" stroke="#111111" stroke-width="1.35"/>
<line x1="241.25" y1="332.75" x2="244.25" y2="332.75" stroke="#111111" stroke-width="1"/>
<text x="238.75" y="335.6" font-size="8" text-anchor="end" fill="#1e1e1e" stroke="#1e1e1e" stroke-width="0.14">0.5</text>
<line x1="241.25" y1="347" x2="244.25" y2="347" stroke="#111111" stroke-width="1"/>
<text x="238.75" y="349.85" font-size="8" text-anchor="end" fill="#1e1e1e" stroke="#1e1e1e" stroke-width="0.14">0.4</text>
<line x1="241.25" y1="361" x2="244.25" y2="361" stroke="#111111" stroke-width="1"/>
<text x="238.75" y="363.85" font-size="8" text-anchor="end" fill="#1e1e1e" stroke="#1e1e1e" stroke-width="0.14">0.3</text>
<line x1="241.25" y1="375.25" x2="244.25" y2="375.25" stroke="#111111" stroke-width="1"/>
<text x="238.75" y="378.1" font-size="8" text-anchor="end" fill="#1e1e1e" stroke="#1e1e1e" stroke-width="0.14">0.2</text>
<line x1="241.25" y1="389.25" x2="244.25" y2="389.25" stroke="#111111" stroke-width="1"/>
<text x="238.75" y="392.1" font-size="8" text-anchor="end" fill="#1e1e1e" stroke="#1e1e1e" stroke-width="0.14">0.1</text>
<line x1="241.25" y1="403.25" x2="244.25" y2="403.25" stroke="#111111" stroke-width="1"/>
<text x="238.75" y="406.1" font-size="8" text-anchor="end" fill="#1e1e1e" stroke="#1e1e1e" stroke-width="0.14">0.0</text>
<line x1="242.45" y1="335.6" x2="244.25" y2="335.6" stroke="#111111" stroke-width="0.7"/>
<line x1="242.45" y1="338.45" x2="244.25" y2="338.45" stroke="#111111" stroke-width="0.7"/>
<line x1="242.45" y1="341.3" x2="244.25" y2="341.3" stroke="#111111" stroke-width="0.7"/>
<line x1="242.45" y1="344.15" x2="244.25" y2="344.15" stroke="#111111" stroke-width="0.7"/>
<line x1="242.45" y1="349.8" x2="244.25" y2="349.8" stroke="#111111" stroke-width="0.7"/>
<line x1="242.45" y1="352.6" x2="244.25" y2="352.6" stroke="#111111" stroke-width="0.7"/>
<line x1="242.45" y1="355.4" x2="244.25" y2="355.4" stroke="#111111" stroke-width="0.7"/>
<line x1="242.45" y1="358.2" x2="244.25" y2="358.2" stroke="#111111" stroke-width="0.7"/>
<line x1="242.45" y1="363.85" x2="244.25" y2="363.85" stroke="#111111" stroke-width="0.7"/>
<line x1="242.45" y1="366.7" x2="244.25" y2="366.7" stroke="#111111" stroke-width="0.7"/>
<line x1="242.45" y1="369.55" x2="244.25" y2="369.55" stroke="#111111" stroke-width="0.7"/>
<line x1="242.45" y1="372.4" x2="244.25" y2="372.4" stroke="#111111" stroke-width="0.7"/>
<line x1="242.45" y1="378.05" x2="244.25" y2="378.05" stroke="#111111" stroke-width="0.7"/>
<line x1="242.45" y1="380.85" x2="244.25" y2="380.85" stroke="#111111" stroke-width="0.7"/>
<line x1="242.45" y1="383.65" x2="244.25" y2="383.65" stroke="#111111" stroke-width="0.7"/>
<line x1="242.45" y1="386.45" x2="244.25" y2="386.45" stroke="#111111" stroke-width="0.7"/>
<line x1="242.45" y1="392.05" x2="244.25" y2="392.05" stroke="#111111" stroke-width="0.7"/>
<line x1="242.45" y1="394.85" x2="244.25" y2="394.85" stroke="#111111" stroke-width="0.7"/>
<line x1="242.45" y1="397.65" x2="244.25" y2="397.65" stroke="#111111" stroke-width="0.7"/>
<line x1="242.45" y1="400.45" x2="244.25" y2="400.45" stroke="#111111" stroke-width="0.7"/>
<line x1="243.65" y1="403.25" x2="314.25" y2="403.25" stroke="#111111" stroke-width="1.35"/>
<text transform="translate(209.3,365.25) rotate(-90)" font-size="7.4" text-anchor="middle" textLength="30" lengthAdjust="spacingAndGlyphs" fill="#1e1e1e" stroke="#222" stroke-width="0.24">TF activity</text>
<text transform="translate(221,366) rotate(-90)" font-size="7.4" text-anchor="middle" textLength="66.75" lengthAdjust="spacingAndGlyphs" fill="#1e1e1e" stroke="#222" stroke-width="0.24">FXa generated nM/min</text>
<line x1="250.6" y1="393" x2="250.6" y2="394.5" stroke="#111" stroke-width="1"/>
<line x1="248.35" y1="393" x2="252.85" y2="393" stroke="#111" stroke-width="1"/>
<rect x="246.9" y="394" width="7.4" height="9.25" fill="#ae0a2e"/>
<line x1="250.6" y1="403.25" x2="250.6" y2="406.3" stroke="#ae0a2e" stroke-width="1"/>
<line x1="262.4" y1="400" x2="262.4" y2="401.25" stroke="#111" stroke-width="1"/>
<line x1="260.15" y1="400" x2="264.65" y2="400" stroke="#111" stroke-width="1"/>
<rect x="258.7" y="400.75" width="7.4" height="2.5" fill="#ae0a2e"/>
<line x1="262.4" y1="403.25" x2="262.4" y2="406.3" stroke="#ae0a2e" stroke-width="1"/>
<line x1="273.9" y1="342.75" x2="273.9" y2="347.5" stroke="#111" stroke-width="1"/>
<line x1="271.65" y1="342.75" x2="276.15" y2="342.75" stroke="#111" stroke-width="1"/>
<rect x="270.2" y="347" width="7.4" height="56.25" fill="#ae0a2e"/>
<line x1="273.9" y1="403.25" x2="273.9" y2="406.3" stroke="#ae0a2e" stroke-width="1"/>
<line x1="285.5" y1="379" x2="285.5" y2="384.5" stroke="#111" stroke-width="1"/>
<line x1="283.25" y1="379" x2="287.75" y2="379" stroke="#111" stroke-width="1"/>
<rect x="281.8" y="384" width="7.4" height="19.25" fill="#ae0a2e"/>
<line x1="285.5" y1="403.25" x2="285.5" y2="406.3" stroke="#ae0a2e" stroke-width="1"/>
<line x1="297" y1="359" x2="297" y2="363.25" stroke="#111" stroke-width="1"/>
<line x1="294.75" y1="359" x2="299.25" y2="359" stroke="#111" stroke-width="1"/>
<rect x="293.3" y="362.75" width="7.4" height="40.5" fill="#ae0a2e"/>
<line x1="297" y1="403.25" x2="297" y2="406.3" stroke="#ae0a2e" stroke-width="1"/>
<line x1="308.75" y1="388.5" x2="308.75" y2="390.75" stroke="#111" stroke-width="1"/>
<line x1="306.5" y1="388.5" x2="311" y2="388.5" stroke="#111" stroke-width="1"/>
<rect x="305.05" y="390.25" width="7.4" height="13" fill="#ae0a2e"/>
<line x1="308.75" y1="403.25" x2="308.75" y2="406.3" stroke="#ae0a2e" stroke-width="1"/>
<path d="M273.75,337.75 H285.5 V374.5" stroke="#111111" stroke-width="1" fill="none"/>
<path d="M297,355.25 H308.75 V383.5" stroke="#111111" stroke-width="1" fill="none"/>
<text x="285.5" y="380.25" font-size="8.6" text-anchor="middle" font-weight="bold" fill="#111" stroke="#111" stroke-width="0.14">**</text>
<text x="308.75" y="389.25" font-size="8.6" text-anchor="middle" font-weight="bold" fill="#111" stroke="#111" stroke-width="0.14">**</text>
<circle cx="250.6" cy="414" r="0.65" fill="#8a8084"/>
<line x1="260.3" y1="414" x2="264.5" y2="414" stroke="#5a5053" stroke-width="0.95"/>
<line x1="262.4" y1="411.9" x2="262.4" y2="416.1" stroke="#5a5053" stroke-width="0.95"/>
<circle cx="273.9" cy="414" r="0.65" fill="#8a8084"/>
<line x1="283.4" y1="414" x2="287.6" y2="414" stroke="#5a5053" stroke-width="0.95"/>
<line x1="285.5" y1="411.9" x2="285.5" y2="416.1" stroke="#5a5053" stroke-width="0.95"/>
<circle cx="297" cy="414" r="0.65" fill="#8a8084"/>
<line x1="306.65" y1="414" x2="310.85" y2="414" stroke="#5a5053" stroke-width="0.95"/>
<line x1="308.75" y1="411.9" x2="308.75" y2="416.1" stroke="#5a5053" stroke-width="0.95"/>
<circle cx="250.6" cy="426" r="0.65" fill="#8a8084"/>
<circle cx="262.4" cy="426" r="0.65" fill="#8a8084"/>
<line x1="271.8" y1="426" x2="276" y2="426" stroke="#5a5053" stroke-width="0.95"/>
<line x1="273.9" y1="423.9" x2="273.9" y2="428.1" stroke="#5a5053" stroke-width="0.95"/>
<line x1="283.4" y1="426" x2="287.6" y2="426" stroke="#5a5053" stroke-width="0.95"/>
<line x1="285.5" y1="423.9" x2="285.5" y2="428.1" stroke="#5a5053" stroke-width="0.95"/>
<circle cx="297" cy="426" r="0.65" fill="#8a8084"/>
<circle cx="308.75" cy="426" r="0.65" fill="#8a8084"/>
<circle cx="250.6" cy="437.75" r="0.65" fill="#8a8084"/>
<circle cx="262.4" cy="437.75" r="0.65" fill="#8a8084"/>
<circle cx="273.9" cy="437.75" r="0.65" fill="#8a8084"/>
<circle cx="285.5" cy="437.75" r="0.65" fill="#8a8084"/>
<line x1="294.9" y1="437.75" x2="299.1" y2="437.75" stroke="#5a5053" stroke-width="0.95"/>
<line x1="297" y1="435.65" x2="297" y2="439.85" stroke="#5a5053" stroke-width="0.95"/>
<line x1="306.65" y1="437.75" x2="310.85" y2="437.75" stroke="#5a5053" stroke-width="0.95"/>
<line x1="308.75" y1="435.65" x2="308.75" y2="439.85" stroke="#5a5053" stroke-width="0.95"/>
<text x="317.5" y="416.5" font-size="7.7" textLength="33.75" lengthAdjust="spacingAndGlyphs" fill="#1e1e1e" stroke="#1e1e1e" stroke-width="0.14">Annexin V</text>
<text x="317.5" y="429" font-size="7.7" textLength="32.5" lengthAdjust="spacingAndGlyphs" fill="#1e1e1e" stroke="#1e1e1e" stroke-width="0.14">Auranofin</text>
<text x="317.5" y="440.5" font-size="7.7" textLength="32.5" lengthAdjust="spacingAndGlyphs" fill="#1e1e1e" stroke="#1e1e1e" stroke-width="0.14">PMX-464</text>
<text x="360.9" y="315.8" font-size="10.3" font-weight="bold" fill="#000" stroke="#000" stroke-width="0.25">H</text>
<rect x="365.95" y="354.2" width="86.95" height="55.4" fill="#e4e4e4"/>
<clipPath id="h0"><rect x="366.25" y="354.5" width="86.35" height="13.3"/></clipPath>
<rect x="366.25" y="354.5" width="86.35" height="13.3" fill="#aeaeae"/>
<clipPath id="h1"><rect x="366.25" y="369" width="86.35" height="12.4"/></clipPath>
<rect x="366.25" y="369" width="86.35" height="12.4" fill="#cfcfcf"/>
<clipPath id="h2"><rect x="366.25" y="382.3" width="86.35" height="12.9"/></clipPath>
<rect x="366.25" y="382.3" width="86.35" height="12.9" fill="#cbcbcb"/>
<clipPath id="h3"><rect x="366.25" y="396.2" width="86.35" height="13.1"/></clipPath>
<rect x="366.25" y="396.2" width="86.35" height="13.1" fill="#c6c6c6"/>
<g clip-path="url(#h0)"><g filter="url(#blurb)">
<rect x="369.5" y="360.45" width="4" height="1.5" rx="0.75" ry="0.75" fill="#808080" opacity="0.85"/>
<rect x="374.5" y="360.9" width="4" height="1" rx="0.5" ry="0.5" fill="#b6b6b6" opacity="0.6"/>
<rect x="383.4" y="357.5" width="10" height="7.4" rx="2.3" ry="2.3" fill="#989898" opacity="0.74"/>
<rect x="383.5" y="357.46" width="9.8" height="3.48" rx="1.74" ry="1.74" fill="#464646" opacity="1"/>
<rect x="383.4" y="361.46" width="10" height="3.48" rx="1.74" ry="1.74" fill="#353535" opacity="1"/>
<rect x="397.7" y="357.5" width="10" height="7.4" rx="2.3" ry="2.3" fill="#959595" opacity="0.75"/>
<rect x="397.8" y="357.45" width="9.8" height="3.5" rx="1.75" ry="1.75" fill="#3e3e3e" opacity="1"/>
<rect x="397.7" y="361.45" width="10" height="3.5" rx="1.75" ry="1.75" fill="#2c2c2c" opacity="1"/>
<rect x="413" y="357.5" width="10" height="7.4" rx="2.3" ry="2.3" fill="#868686" opacity="0.82"/>
<rect x="413.1" y="357.4" width="9.8" height="3.6" rx="1.8" ry="1.8" fill="#1f1f1f" opacity="1"/>
<rect x="413" y="361.4" width="10" height="3.6" rx="1.8" ry="1.8" fill="#0a0a0a" opacity="1"/>
<rect x="412.5" y="357.2" width="11" height="8" rx="2.3" ry="2.3" fill="#141414" opacity="1"/>
<rect x="426.6" y="357.5" width="10" height="7.4" rx="2.3" ry="2.3" fill="#9f9f9f" opacity="0.7"/>
<rect x="426.7" y="357.48" width="9.8" height="3.43" rx="1.72" ry="1.72" fill="#555555" opacity="1"/>
<rect x="426.6" y="361.48" width="10" height="3.43" rx="1.72" ry="1.72" fill="#464646" opacity="1"/>
<rect x="440.6" y="357.5" width="10" height="7.4" rx="2.3" ry="2.3" fill="#aaaaaa" opacity="0.65"/>
<rect x="440.7" y="357.52" width="9.8" height="3.36" rx="1.68" ry="1.68" fill="#6c6c6c" opacity="0.94"/>
<rect x="440.6" y="361.52" width="10" height="3.36" rx="1.68" ry="1.68" fill="#606060" opacity="1"/>
</g></g>
<g clip-path="url(#h1)"><g filter="url(#blurb)">
<rect x="368.7" y="372.8" width="10.6" height="3.6" rx="1.8" ry="1.8" fill="#141414" opacity="1"/>
<rect x="383.1" y="372.9" width="10.6" height="3.6" rx="1.8" ry="1.8" fill="#141414" opacity="1"/>
<rect x="397.4" y="372.7" width="10.6" height="3.6" rx="1.8" ry="1.8" fill="#141414" opacity="1"/>
<rect x="412.7" y="372.2" width="10.6" height="3.6" rx="1.8" ry="1.8" fill="#141414" opacity="1"/>
<rect x="426.3" y="372" width="10.6" height="3.6" rx="1.8" ry="1.8" fill="#141414" opacity="1"/>
<rect x="440.3" y="372" width="10.6" height="3.6" rx="1.8" ry="1.8" fill="#141414" opacity="1"/>
</g></g>
<g clip-path="url(#h2)"><g filter="url(#blurb)">
<rect x="369.5" y="387.75" width="9" height="2.9" rx="1.45" ry="1.45" fill="#757575" opacity="0.9"/>
<rect x="383.3" y="387.35" width="10.2" height="3.3" rx="1.65" ry="1.65" fill="#1f1f1f" opacity="1"/>
<rect x="397.6" y="387.14" width="10.2" height="3.32" rx="1.66" ry="1.66" fill="#1b1b1b" opacity="1"/>
<rect x="412.9" y="386.72" width="10.2" height="3.35" rx="1.67" ry="1.67" fill="#141414" opacity="1"/>
<rect x="426.5" y="386.55" width="10.2" height="3.3" rx="1.65" ry="1.65" fill="#1f1f1f" opacity="1"/>
<rect x="440.5" y="386.62" width="10.2" height="3.15" rx="1.57" ry="1.57" fill="#3f3f3f" opacity="1"/>
</g></g>
<g clip-path="url(#h3)"><g filter="url(#blurb)">
<rect x="368.5" y="401.1" width="11" height="4.2" rx="2.1" ry="2.1" fill="#0a0a0a" opacity="1"/>
<rect x="382.9" y="400.9" width="11" height="4.2" rx="2.1" ry="2.1" fill="#0a0a0a" opacity="1"/>
<rect x="397.2" y="400.7" width="11" height="4.2" rx="2.1" ry="2.1" fill="#0a0a0a" opacity="1"/>
<rect x="412.5" y="400.3" width="11" height="4.2" rx="2.1" ry="2.1" fill="#0a0a0a" opacity="1"/>
<rect x="426.1" y="400.1" width="11" height="4.2" rx="2.1" ry="2.1" fill="#0a0a0a" opacity="1"/>
<rect x="440.1" y="399.9" width="11" height="4.2" rx="2.1" ry="2.1" fill="#0a0a0a" opacity="1"/>
</g></g>
<rect x="366.25" y="354.5" width="86.35" height="13.3" fill="none" stroke="#333" stroke-width="0.8"/>
<text transform="translate(377.5,352) rotate(-90)" font-size="7.7" textLength="25" lengthAdjust="spacingAndGlyphs" fill="#1e1e1e" stroke="#1e1e1e" stroke-width="0.14">Control</text>
<text x="402" y="334" font-size="7.7" textLength="33" lengthAdjust="spacingAndGlyphs" fill="#1e1e1e" stroke="#1e1e1e" stroke-width="0.14">Curcumin</text>
<line x1="383.75" y1="339" x2="452.5" y2="339" stroke="#111111" stroke-width="1.35"/>
<text transform="translate(394.1,351.6) rotate(-90)" font-size="8.2" fill="#1e1e1e" stroke="#1e1e1e" stroke-width="0.14">5</text>
<text transform="translate(407.9,351.6) rotate(-90)" font-size="8.2" fill="#1e1e1e" stroke="#1e1e1e" stroke-width="0.14">10</text>
<text transform="translate(422.15,351.6) rotate(-90)" font-size="8.2" fill="#1e1e1e" stroke="#1e1e1e" stroke-width="0.14">20</text>
<text transform="translate(435.4,351.6) rotate(-90)" font-size="8.2" fill="#1e1e1e" stroke="#1e1e1e" stroke-width="0.14">30</text>
<text transform="translate(449.15,351.6) rotate(-90)" font-size="8.2" fill="#1e1e1e" stroke="#1e1e1e" stroke-width="0.14">60</text>
<text x="456.75" y="350.6" font-size="7.7" textLength="16.5" lengthAdjust="spacingAndGlyphs" fill="#1e1e1e" stroke="#1e1e1e" stroke-width="0.14">(min)</text>
<text x="456.25" y="363.6" font-size="8.2" textLength="35.75" lengthAdjust="spacingAndGlyphs" fill="#1e1e1e" stroke="#1e1e1e" stroke-width="0.14">p-MKK3/6</text>
<text x="456.25" y="377.75" font-size="8.2" textLength="40.75" lengthAdjust="spacingAndGlyphs" fill="#1e1e1e" stroke="#1e1e1e" stroke-width="0.14">Total MKK3</text>
<text x="456.25" y="391.3" font-size="8.2" textLength="45" lengthAdjust="spacingAndGlyphs" fill="#1e1e1e" stroke="#1e1e1e" stroke-width="0.14">p-p38 MAPK</text>
<text x="456.25" y="405" font-size="8.2" textLength="57.5" lengthAdjust="spacingAndGlyphs" fill="#1e1e1e" stroke="#1e1e1e" stroke-width="0.14">Total p38 MAPK</text>
<text x="6.8" y="467.8" font-size="10.3" font-weight="bold" fill="#000" stroke="#000" stroke-width="0.25">I</text>
<clipPath id="i0"><rect x="13.75" y="516" width="86.05" height="11.75"/></clipPath>
<rect x="13.75" y="516" width="86.05" height="11.75" fill="#d2d2d2"/>
<clipPath id="i1"><rect x="13.75" y="529" width="86.05" height="11.5"/></clipPath>
<rect x="13.75" y="529" width="86.05" height="11.5" fill="#d6d6d6"/>
<clipPath id="i2"><rect x="13.75" y="541.75" width="86.05" height="11.25"/></clipPath>
<rect x="13.75" y="541.75" width="86.05" height="11.25" fill="#cdcdcd"/>
<clipPath id="i3"><rect x="13.75" y="554" width="86.05" height="10.75"/></clipPath>
<rect x="13.75" y="554" width="86.05" height="10.75" fill="#d4d4d4"/>
<g clip-path="url(#i0)"><g filter="url(#blurs)">
<rect x="16.9" y="523.3" width="9" height="1.8" rx="0.9" ry="0.9" fill="#4a4a4a" opacity="1"/>
<rect x="30.7" y="520.05" width="10.2" height="1.9" rx="0.95" ry="0.95" fill="#292929" opacity="1"/>
<rect x="30.6" y="523.3" width="10.4" height="2" rx="1" ry="1" fill="#1f1f1f" opacity="1"/>
<rect x="44" y="520.05" width="10.2" height="1.9" rx="0.95" ry="0.95" fill="#292929" opacity="1"/>
<rect x="43.9" y="523.3" width="10.4" height="2" rx="1" ry="1" fill="#1f1f1f" opacity="1"/>
<rect x="58.4" y="520.05" width="10.2" height="1.9" rx="0.95" ry="0.95" fill="#292929" opacity="1"/>
<rect x="58.3" y="523.3" width="10.4" height="2" rx="1" ry="1" fill="#1f1f1f" opacity="1"/>
<rect x="71.7" y="520.05" width="10.2" height="1.9" rx="0.95" ry="0.95" fill="#3d3d3d" opacity="1"/>
<rect x="71.6" y="523.3" width="10.4" height="2" rx="1" ry="1" fill="#353535" opacity="1"/>
<rect x="85.8" y="520.05" width="10.2" height="1.9" rx="0.95" ry="0.95" fill="#707070" opacity="0.92"/>
<rect x="85.7" y="523.3" width="10.4" height="2" rx="1" ry="1" fill="#3f3f3f" opacity="1"/>
</g></g>
<g clip-path="url(#i1)"><g filter="url(#blurs)">
<rect x="15.5" y="535.1" width="11.8" height="3" rx="1.5" ry="1.5" fill="#0e0e0e" opacity="1" transform="rotate(-2.5 21.4 536.6)"/>
<rect x="29.9" y="534.6" width="11.8" height="3.2" rx="1.6" ry="1.6" fill="#0e0e0e" opacity="1" transform="rotate(-2.5 35.8 536.2)"/>
<rect x="43.2" y="534" width="11.8" height="3.2" rx="1.6" ry="1.6" fill="#0e0e0e" opacity="1" transform="rotate(-2.5 49.1 535.6)"/>
<rect x="57.6" y="533.4" width="11.8" height="2.8" rx="1.4" ry="1.4" fill="#0e0e0e" opacity="1" transform="rotate(-2.5 63.5 534.8)"/>
<rect x="70.9" y="532.6" width="11.8" height="2.4" rx="1.2" ry="1.2" fill="#0e0e0e" opacity="1" transform="rotate(-2.5 76.8 533.8)"/>
<rect x="85" y="530.9" width="11.8" height="2.8" rx="1.4" ry="1.4" fill="#0e0e0e" opacity="1" transform="rotate(-2.5 90.9 532.3)"/>
</g></g>
<g clip-path="url(#i2)"><g filter="url(#blurs)">
<rect x="16.9" y="545.8" width="9" height="1.8" rx="0.9" ry="0.9" fill="#6a6a6a" opacity="0.95"/>
<rect x="30.3" y="545.1" width="11" height="3.2" rx="1.6" ry="1.6" fill="#141414" opacity="1"/>
<rect x="43.6" y="545.2" width="11" height="3" rx="1.5" ry="1.5" fill="#141414" opacity="1"/>
<rect x="58" y="545.2" width="11" height="3" rx="1.5" ry="1.5" fill="#141414" opacity="1"/>
<rect x="71.3" y="544.7" width="11" height="4" rx="2" ry="2" fill="#0a0a0a" opacity="1"/>
<rect x="85.4" y="544.2" width="11" height="5" rx="2.3" ry="2.3" fill="#0a0a0a" opacity="1"/>
</g></g>
<g clip-path="url(#i3)"><g filter="url(#blurs)">
<rect x="15.4" y="557.1" width="12" height="4.2" rx="2.1" ry="2.1" fill="#0a0a0a" opacity="1"/>
<rect x="29.8" y="557.1" width="12" height="4.2" rx="2.1" ry="2.1" fill="#0a0a0a" opacity="1"/>
<rect x="43.1" y="557.1" width="12" height="4.2" rx="2.1" ry="2.1" fill="#0a0a0a" opacity="1"/>
<rect x="57.5" y="557.1" width="12" height="4.2" rx="2.1" ry="2.1" fill="#0a0a0a" opacity="1"/>
<rect x="70.8" y="557.1" width="12" height="4.2" rx="2.1" ry="2.1" fill="#0a0a0a" opacity="1"/>
<rect x="84.9" y="557.1" width="12" height="4.2" rx="2.1" ry="2.1" fill="#0a0a0a" opacity="1"/>
</g></g>
<rect x="13.75" y="516" width="86.05" height="11.75" fill="none" stroke="#222" stroke-width="0.9"/>
<rect x="13.75" y="529" width="86.05" height="11.5" fill="none" stroke="#222" stroke-width="0.9"/>
<rect x="13.75" y="541.75" width="86.05" height="11.25" fill="none" stroke="#222" stroke-width="0.9"/>
<rect x="13.75" y="554" width="86.05" height="10.75" fill="none" stroke="#222" stroke-width="0.9"/>
<text transform="translate(25,512.25) rotate(-90)" font-size="7.7" textLength="24.5" lengthAdjust="spacingAndGlyphs" fill="#1e1e1e" stroke="#1e1e1e" stroke-width="0.14">Control</text>
<text x="48" y="496" font-size="7.7" textLength="33.25" lengthAdjust="spacingAndGlyphs" fill="#1e1e1e" stroke="#1e1e1e" stroke-width="0.14">Auranofin</text>
<line x1="29.5" y1="501" x2="100" y2="501" stroke="#111111" stroke-width="1.35"/>
<text transform="translate(39.9,513.1) rotate(-90)" font-size="8.2" fill="#1e1e1e" stroke="#1e1e1e" stroke-width="0.14">5</text>
<text transform="translate(53.65,513.1) rotate(-90)" font-size="8.2" fill="#1e1e1e" stroke="#1e1e1e" stroke-width="0.14">10</text>
<text transform="translate(67.4,513.1) rotate(-90)" font-size="8.2" fill="#1e1e1e" stroke="#1e1e1e" stroke-width="0.14">20</text>
<text transform="translate(80.4,513.1) rotate(-90)" font-size="8.2" fill="#1e1e1e" stroke="#1e1e1e" stroke-width="0.14">30</text>
<text transform="translate(94.15,513.1) rotate(-90)" font-size="8.2" fill="#1e1e1e" stroke="#1e1e1e" stroke-width="0.14">60</text>
<text x="103" y="512.4" font-size="7.7" textLength="17" lengthAdjust="spacingAndGlyphs" fill="#1e1e1e" stroke="#1e1e1e" stroke-width="0.14">(min)</text>
<text x="103.75" y="525.6" font-size="8.2" textLength="35.5" lengthAdjust="spacingAndGlyphs" fill="#1e1e1e" stroke="#1e1e1e" stroke-width="0.14">p-MKK3/6</text>
<text x="103.75" y="537.75" font-size="8.2" textLength="40" lengthAdjust="spacingAndGlyphs" fill="#1e1e1e" stroke="#1e1e1e" stroke-width="0.14">Total MKK3</text>
<text x="103.75" y="549.6" font-size="8.2" textLength="45" lengthAdjust="spacingAndGlyphs" fill="#1e1e1e" stroke="#1e1e1e" stroke-width="0.14">p-p38 MAPK</text>
<text x="103.75" y="562" font-size="8.2" textLength="57.5" lengthAdjust="spacingAndGlyphs" fill="#1e1e1e" stroke="#1e1e1e" stroke-width="0.14">Total p38 MAPK</text>
<text x="173.4" y="467.8" font-size="10.3" font-weight="bold" fill="#000" stroke="#000" stroke-width="0.25">J</text>
<clipPath id="j0"><rect x="181.75" y="500.3" width="87.45" height="13.7"/></clipPath>
<rect x="181.75" y="500.3" width="87.45" height="13.7" fill="#dedede"/>
<clipPath id="j1"><rect x="181.75" y="516" width="87.45" height="14.25"/></clipPath>
<rect x="181.75" y="516" width="87.45" height="14.25" fill="#d8d8d8"/>
<clipPath id="j2"><rect x="181.75" y="532.3" width="87.45" height="14.9"/></clipPath>
<rect x="181.75" y="532.3" width="87.45" height="14.9" fill="#d2d2d2"/>
<clipPath id="j3"><rect x="181.75" y="549.1" width="87.45" height="14.9"/></clipPath>
<rect x="181.75" y="549.1" width="87.45" height="14.9" fill="#dadada"/>
<g clip-path="url(#j0)"><g filter="url(#blurb)">
<rect x="185.2" y="506.5" width="6" height="3" rx="1.5" ry="1.5" fill="#c7c7c7" opacity="0.52"/>
<rect x="196.25" y="503.45" width="8.5" height="3.5" rx="1.75" ry="1.75" fill="#888888" opacity="0.81"/>
<rect x="196" y="507.18" width="9" height="4.05" rx="2.02" ry="2.02" fill="#6a6a6a" opacity="0.95"/>
<rect x="208.45" y="503.45" width="8.5" height="3.5" rx="1.75" ry="1.75" fill="#575757" opacity="1"/>
<rect x="208.2" y="507.02" width="9" height="4.35" rx="2.17" ry="2.17" fill="#2a2a2a" opacity="1"/>
<rect x="207.95" y="503.65" width="9.5" height="7.5" rx="2.3" ry="2.3" fill="#2a2a2a" opacity="1"/>
<rect x="219.95" y="503.45" width="8.5" height="3.5" rx="1.75" ry="1.75" fill="#535353" opacity="1"/>
<rect x="219.7" y="507.01" width="9" height="4.38" rx="2.19" ry="2.19" fill="#232323" opacity="1"/>
<rect x="219.45" y="503.65" width="9.5" height="7.5" rx="2.3" ry="2.3" fill="#232323" opacity="1"/>
<rect x="232.45" y="503.45" width="8.5" height="3.5" rx="1.75" ry="1.75" fill="#3f3f3f" opacity="1"/>
<rect x="232.2" y="506.95" width="9" height="4.5" rx="2.25" ry="2.25" fill="#0a0a0a" opacity="1"/>
<rect x="231.95" y="503.65" width="9.5" height="7.5" rx="2.3" ry="2.3" fill="#0a0a0a" opacity="1"/>
<rect x="244.25" y="503.45" width="8.5" height="3.5" rx="1.75" ry="1.75" fill="#989898" opacity="0.74"/>
<rect x="244" y="507.22" width="9" height="3.95" rx="1.98" ry="1.98" fill="#808080" opacity="0.85"/>
<rect x="256.45" y="503.45" width="8.5" height="3.5" rx="1.75" ry="1.75" fill="#707070" opacity="0.92"/>
<rect x="256.2" y="507.1" width="9" height="4.2" rx="2.1" ry="2.1" fill="#4a4a4a" opacity="1"/>
</g></g>
<g clip-path="url(#j1)"><g filter="url(#blurb)">
<rect x="184.2" y="522.3" width="8" height="3" rx="1.5" ry="1.5" fill="#0a0a0a" opacity="1"/>
<rect x="196.25" y="521.9" width="8.5" height="3.8" rx="1.9" ry="1.9" fill="#0a0a0a" opacity="1"/>
<rect x="207.95" y="521.5" width="9.5" height="4.6" rx="2.3" ry="2.3" fill="#0a0a0a" opacity="1"/>
<rect x="219.7" y="521.6" width="9" height="4.4" rx="2.2" ry="2.2" fill="#0a0a0a" opacity="1"/>
<rect x="232.45" y="521.8" width="8.5" height="4" rx="2" ry="2" fill="#0a0a0a" opacity="1"/>
<rect x="244.5" y="522.2" width="8" height="3.2" rx="1.6" ry="1.6" fill="#0a0a0a" opacity="1"/>
<rect x="256.7" y="521.9" width="8" height="3.8" rx="1.9" ry="1.9" fill="#0a0a0a" opacity="1"/>
</g></g>
<g clip-path="url(#j2)"><g filter="url(#blurb)">
<rect x="184.2" y="538" width="8" height="3" rx="1.5" ry="1.5" fill="#808080" opacity="0.85"/>
<rect x="195" y="535.45" width="11" height="7.5" rx="2.3" ry="2.3" fill="#0a0a0a" opacity="1"/>
<rect x="207.2" y="534.9" width="11" height="7" rx="2.3" ry="2.3" fill="#0a0a0a" opacity="1"/>
<rect x="218.7" y="535.35" width="11" height="6.5" rx="2.3" ry="2.3" fill="#0a0a0a" opacity="1"/>
<rect x="231.2" y="534.45" width="11" height="7.5" rx="2.3" ry="2.3" fill="#0a0a0a" opacity="1"/>
<rect x="243" y="535.9" width="11" height="5" rx="2.3" ry="2.3" fill="#141414" opacity="1"/>
<rect x="255.2" y="536.1" width="11" height="5" rx="2.3" ry="2.3" fill="#2a2a2a" opacity="1"/>
</g></g>
<g clip-path="url(#j3)"><g filter="url(#blurb)">
<rect x="182.7" y="554.5" width="11" height="5.4" rx="2.3" ry="2.3" fill="#0a0a0a" opacity="1" transform="rotate(-4 188.2 557.2)"/>
<rect x="195" y="553.5" width="11" height="5.4" rx="2.3" ry="2.3" fill="#0a0a0a" opacity="1" transform="rotate(-4 200.5 556.2)"/>
<rect x="207.2" y="552.3" width="11" height="5.4" rx="2.3" ry="2.3" fill="#0a0a0a" opacity="1" transform="rotate(-4 212.7 555)"/>
<rect x="218.7" y="552.3" width="11" height="5.4" rx="2.3" ry="2.3" fill="#0a0a0a" opacity="1" transform="rotate(-4 224.2 555)"/>
<rect x="231.2" y="551.9" width="11" height="5.4" rx="2.3" ry="2.3" fill="#0a0a0a" opacity="1" transform="rotate(-4 236.7 554.6)"/>
<rect x="243" y="551.7" width="11" height="5.4" rx="2.3" ry="2.3" fill="#0a0a0a" opacity="1" transform="rotate(-4 248.5 554.4)"/>
<rect x="255.2" y="551.3" width="11" height="5.4" rx="2.3" ry="2.3" fill="#0a0a0a" opacity="1" transform="rotate(-4 260.7 554)"/>
</g></g>
<rect x="181.75" y="500.3" width="87.45" height="13.7" fill="none" stroke="#222" stroke-width="0.9"/>
<rect x="181.75" y="516" width="87.45" height="14.25" fill="none" stroke="#222" stroke-width="0.9"/>
<rect x="181.75" y="532.3" width="87.45" height="14.9" fill="none" stroke="#222" stroke-width="0.9"/>
<rect x="181.75" y="549.1" width="87.45" height="14.9" fill="none" stroke="#222" stroke-width="0.9"/>
<text transform="translate(190,496) rotate(-90)" font-size="7.7" textLength="25" lengthAdjust="spacingAndGlyphs" fill="#1e1e1e" stroke="#1e1e1e" stroke-width="0.14">Control</text>
<text x="215.75" y="467.3" font-size="7.7" textLength="32.5" lengthAdjust="spacingAndGlyphs" fill="#1e1e1e" stroke="#1e1e1e" stroke-width="0.14">PMX-464</text>
<line x1="196.25" y1="472.25" x2="266.75" y2="472.25" stroke="#111111" stroke-width="1.35"/>
<text x="205.2" y="484" font-size="7.7" text-anchor="middle" fill="#1e1e1e" stroke="#1e1e1e" stroke-width="0.14">50</text>
<text x="230.5" y="484" font-size="7.7" text-anchor="middle" fill="#1e1e1e" stroke="#1e1e1e" stroke-width="0.14">100</text>
<text x="256.5" y="484" font-size="7.7" text-anchor="middle" fill="#1e1e1e" stroke="#1e1e1e" stroke-width="0.14">250</text>
<line x1="195" y1="487.75" x2="215.5" y2="487.75" stroke="#111111" stroke-width="1.3"/>
<line x1="220" y1="487.75" x2="241.25" y2="487.75" stroke="#111111" stroke-width="1.3"/>
<line x1="246.25" y1="487.75" x2="266.75" y2="487.75" stroke="#111111" stroke-width="1.3"/>
<text x="199.3" y="496.75" font-size="7.7" text-anchor="middle" textLength="8.2" lengthAdjust="spacingAndGlyphs" fill="#1e1e1e" stroke="#1e1e1e" stroke-width="0.14">15</text>
<text x="210.4" y="496.75" font-size="7.7" text-anchor="middle" textLength="8.2" lengthAdjust="spacingAndGlyphs" fill="#1e1e1e" stroke="#1e1e1e" stroke-width="0.14">30</text>
<text x="224.5" y="496.75" font-size="7.7" text-anchor="middle" textLength="8.2" lengthAdjust="spacingAndGlyphs" fill="#1e1e1e" stroke="#1e1e1e" stroke-width="0.14">15</text>
<text x="235.8" y="496.75" font-size="7.7" text-anchor="middle" textLength="8.2" lengthAdjust="spacingAndGlyphs" fill="#1e1e1e" stroke="#1e1e1e" stroke-width="0.14">30</text>
<text x="249.6" y="496.75" font-size="7.7" text-anchor="middle" textLength="8.2" lengthAdjust="spacingAndGlyphs" fill="#1e1e1e" stroke="#1e1e1e" stroke-width="0.14">15</text>
<text x="261" y="496.75" font-size="7.7" text-anchor="middle" textLength="8.2" lengthAdjust="spacingAndGlyphs" fill="#1e1e1e" stroke="#1e1e1e" stroke-width="0.14">30</text>
<text x="282.5" y="496.4" font-size="7.7" textLength="16.75" lengthAdjust="spacingAndGlyphs" fill="#1e1e1e" stroke="#1e1e1e" stroke-width="0.14">(min)</text>
<text x="273.5" y="509.6" font-size="8.2" textLength="35" lengthAdjust="spacingAndGlyphs" fill="#1e1e1e" stroke="#1e1e1e" stroke-width="0.14">p-MKK3/6</text>
<text x="273.5" y="527.3" font-size="8.2" textLength="40" lengthAdjust="spacingAndGlyphs" fill="#1e1e1e" stroke="#1e1e1e" stroke-width="0.14">Total MKK3</text>
<text x="273.5" y="544.1" font-size="8.2" textLength="44.5" lengthAdjust="spacingAndGlyphs" fill="#1e1e1e" stroke="#1e1e1e" stroke-width="0.14">p-p38 MAPK</text>
<text x="273.5" y="562.5" font-size="8.2" textLength="56.5" lengthAdjust="spacingAndGlyphs" fill="#1e1e1e" stroke="#1e1e1e" stroke-width="0.14">Total p38 MAPK</text>
<text x="342.9" y="467.8" font-size="10.3" font-weight="bold" fill="#000" stroke="#000" stroke-width="0.25">K</text>
<line x1="389.5" y1="486.75" x2="389.5" y2="565.35" stroke="#111111" stroke-width="1.35"/>
<line x1="386.5" y1="489.75" x2="389.5" y2="489.75" stroke="#111111" stroke-width="1"/>
<text x="383.75" y="492.6" font-size="8" text-anchor="end" fill="#1e1e1e" stroke="#1e1e1e" stroke-width="0.14">0.20</text>
<line x1="386.5" y1="508.5" x2="389.5" y2="508.5" stroke="#111111" stroke-width="1"/>
<text x="383.75" y="511.35" font-size="8" text-anchor="end" fill="#1e1e1e" stroke="#1e1e1e" stroke-width="0.14">0.15</text>
<line x1="386.5" y1="527.25" x2="389.5" y2="527.25" stroke="#111111" stroke-width="1"/>
<text x="383.75" y="530.1" font-size="8" text-anchor="end" fill="#1e1e1e" stroke="#1e1e1e" stroke-width="0.14">0.10</text>
<line x1="386.5" y1="546" x2="389.5" y2="546" stroke="#111111" stroke-width="1"/>
<text x="383.75" y="548.85" font-size="8" text-anchor="end" fill="#1e1e1e" stroke="#1e1e1e" stroke-width="0.14">0.05</text>
<line x1="386.5" y1="564.75" x2="389.5" y2="564.75" stroke="#111111" stroke-width="1"/>
<text x="383.75" y="567.6" font-size="8" text-anchor="end" fill="#1e1e1e" stroke="#1e1e1e" stroke-width="0.14">0.00</text>
<line x1="387.7" y1="493.5" x2="389.5" y2="493.5" stroke="#111111" stroke-width="0.7"/>
<line x1="387.7" y1="497.25" x2="389.5" y2="497.25" stroke="#111111" stroke-width="0.7"/>
<line x1="387.7" y1="501" x2="389.5" y2="501" stroke="#111111" stroke-width="0.7"/>
<line x1="387.7" y1="504.75" x2="389.5" y2="504.75" stroke="#111111" stroke-width="0.7"/>
<line x1="387.7" y1="512.25" x2="389.5" y2="512.25" stroke="#111111" stroke-width="0.7"/>
<line x1="387.7" y1="516" x2="389.5" y2="516" stroke="#111111" stroke-width="0.7"/>
<line x1="387.7" y1="519.75" x2="389.5" y2="519.75" stroke="#111111" stroke-width="0.7"/>
<line x1="387.7" y1="523.5" x2="389.5" y2="523.5" stroke="#111111" stroke-width="0.7"/>
<line x1="387.7" y1="531" x2="389.5" y2="531" stroke="#111111" stroke-width="0.7"/>
<line x1="387.7" y1="534.75" x2="389.5" y2="534.75" stroke="#111111" stroke-width="0.7"/>
<line x1="387.7" y1="538.5" x2="389.5" y2="538.5" stroke="#111111" stroke-width="0.7"/>
<line x1="387.7" y1="542.25" x2="389.5" y2="542.25" stroke="#111111" stroke-width="0.7"/>
<line x1="387.7" y1="549.75" x2="389.5" y2="549.75" stroke="#111111" stroke-width="0.7"/>
<line x1="387.7" y1="553.5" x2="389.5" y2="553.5" stroke="#111111" stroke-width="0.7"/>
<line x1="387.7" y1="557.25" x2="389.5" y2="557.25" stroke="#111111" stroke-width="0.7"/>
<line x1="387.7" y1="561" x2="389.5" y2="561" stroke="#111111" stroke-width="0.7"/>
<line x1="388.9" y1="564.75" x2="465.5" y2="564.75" stroke="#111111" stroke-width="1.35"/>
<text transform="translate(349.8,526.25) rotate(-90)" font-size="7.4" text-anchor="middle" textLength="29.5" lengthAdjust="spacingAndGlyphs" fill="#1e1e1e" stroke="#222" stroke-width="0.24">TF activity</text>
<text transform="translate(362,526.6) rotate(-90)" font-size="7.4" text-anchor="middle" textLength="73.75" lengthAdjust="spacingAndGlyphs" fill="#1e1e1e" stroke="#222" stroke-width="0.24">(FXa generated, nM/min)</text>
<line x1="396.5" y1="554.25" x2="396.5" y2="557.75" stroke="#111" stroke-width="1"/>
<line x1="394.1" y1="554.25" x2="398.9" y2="554.25" stroke="#111" stroke-width="1"/>
<rect x="392.4" y="557.25" width="8.2" height="7.5" fill="#ae0a2e"/>
<line x1="396.5" y1="564.75" x2="396.5" y2="567.8" stroke="#ae0a2e" stroke-width="1"/>
<line x1="409" y1="557.25" x2="409" y2="560.75" stroke="#111" stroke-width="1"/>
<line x1="406.6" y1="557.25" x2="411.4" y2="557.25" stroke="#111" stroke-width="1"/>
<rect x="404.9" y="560.25" width="8.2" height="4.5" fill="#ae0a2e"/>
<line x1="409" y1="564.75" x2="409" y2="567.8" stroke="#ae0a2e" stroke-width="1"/>
<line x1="421.6" y1="506" x2="421.6" y2="510.75" stroke="#111" stroke-width="1"/>
<line x1="419.2" y1="506" x2="424" y2="506" stroke="#111" stroke-width="1"/>
<rect x="417.5" y="510.25" width="8.2" height="54.5" fill="#ae0a2e"/>
<line x1="421.6" y1="564.75" x2="421.6" y2="567.8" stroke="#ae0a2e" stroke-width="1"/>
<line x1="434.1" y1="523" x2="434.1" y2="529" stroke="#111" stroke-width="1"/>
<line x1="431.7" y1="523" x2="436.5" y2="523" stroke="#111" stroke-width="1"/>
<rect x="430" y="528.5" width="8.2" height="36.25" fill="#ae0a2e"/>
<line x1="434.1" y1="564.75" x2="434.1" y2="567.8" stroke="#ae0a2e" stroke-width="1"/>
<line x1="446.6" y1="510.5" x2="446.6" y2="517.75" stroke="#111" stroke-width="1"/>
<line x1="444.2" y1="510.5" x2="449" y2="510.5" stroke="#111" stroke-width="1"/>
<rect x="442.5" y="517.25" width="8.2" height="47.5" fill="#ae0a2e"/>
<line x1="446.6" y1="564.75" x2="446.6" y2="567.8" stroke="#ae0a2e" stroke-width="1"/>
<line x1="459.1" y1="534.75" x2="459.1" y2="536.5" stroke="#111" stroke-width="1"/>
<line x1="456.7" y1="534.75" x2="461.5" y2="534.75" stroke="#111" stroke-width="1"/>
<rect x="455" y="536" width="8.2" height="28.75" fill="#ae0a2e"/>
<line x1="459.1" y1="564.75" x2="459.1" y2="567.8" stroke="#ae0a2e" stroke-width="1"/>
<path d="M420,501.5 H433.75 V518.5" stroke="#111111" stroke-width="1" fill="none"/>
<path d="M446.75,505.25 H458.75 V529.75" stroke="#111111" stroke-width="1" fill="none"/>
<text x="434.1" y="524.4" font-size="8" text-anchor="middle" font-weight="bold" fill="#111" stroke="#111" stroke-width="0.14">*</text>
<text x="459.1" y="536.15" font-size="8" text-anchor="middle" font-weight="bold" fill="#111" stroke="#111" stroke-width="0.14">*</text>
<circle cx="396.5" cy="576" r="0.65" fill="#8a8084"/>
<line x1="406.9" y1="576" x2="411.1" y2="576" stroke="#5a5053" stroke-width="0.95"/>
<line x1="409" y1="573.9" x2="409" y2="578.1" stroke="#5a5053" stroke-width="0.95"/>
<circle cx="421.6" cy="576" r="0.65" fill="#8a8084"/>
<line x1="432" y1="576" x2="436.2" y2="576" stroke="#5a5053" stroke-width="0.95"/>
<line x1="434.1" y1="573.9" x2="434.1" y2="578.1" stroke="#5a5053" stroke-width="0.95"/>
<circle cx="446.6" cy="576" r="0.65" fill="#8a8084"/>
<line x1="457" y1="576" x2="461.2" y2="576" stroke="#5a5053" stroke-width="0.95"/>
<line x1="459.1" y1="573.9" x2="459.1" y2="578.1" stroke="#5a5053" stroke-width="0.95"/>
<circle cx="396.5" cy="587.8" r="0.65" fill="#8a8084"/>
<circle cx="409" cy="587.8" r="0.65" fill="#8a8084"/>
<line x1="419.5" y1="587.8" x2="423.7" y2="587.8" stroke="#5a5053" stroke-width="0.95"/>
<line x1="421.6" y1="585.7" x2="421.6" y2="589.9" stroke="#5a5053" stroke-width="0.95"/>
<line x1="432" y1="587.8" x2="436.2" y2="587.8" stroke="#5a5053" stroke-width="0.95"/>
<line x1="434.1" y1="585.7" x2="434.1" y2="589.9" stroke="#5a5053" stroke-width="0.95"/>
<circle cx="446.6" cy="587.8" r="0.65" fill="#8a8084"/>
<circle cx="459.1" cy="587.8" r="0.65" fill="#8a8084"/>
<circle cx="396.5" cy="599.75" r="0.65" fill="#8a8084"/>
<circle cx="409" cy="599.75" r="0.65" fill="#8a8084"/>
<circle cx="421.6" cy="599.75" r="0.65" fill="#8a8084"/>
<circle cx="434.1" cy="599.75" r="0.65" fill="#8a8084"/>
<line x1="444.5" y1="599.75" x2="448.7" y2="599.75" stroke="#5a5053" stroke-width="0.95"/>
<line x1="446.6" y1="597.65" x2="446.6" y2="601.85" stroke="#5a5053" stroke-width="0.95"/>
<line x1="457" y1="599.75" x2="461.2" y2="599.75" stroke="#5a5053" stroke-width="0.95"/>
<line x1="459.1" y1="597.65" x2="459.1" y2="601.85" stroke="#5a5053" stroke-width="0.95"/>
<text x="470" y="578.5" font-size="7.7" textLength="38.25" lengthAdjust="spacingAndGlyphs" fill="#1e1e1e" stroke="#1e1e1e" stroke-width="0.14">SB203580</text>
<text x="470" y="590.3" font-size="7.7" textLength="32.5" lengthAdjust="spacingAndGlyphs" fill="#1e1e1e" stroke="#1e1e1e" stroke-width="0.14">Auranofin</text>
<text x="470" y="602.75" font-size="7.7" textLength="32.5" lengthAdjust="spacingAndGlyphs" fill="#1e1e1e" stroke="#1e1e1e" stroke-width="0.14">PMX-464</text>
<rect x="0.65" y="0.65" width="518.7" height="608.7" fill="none" stroke="#000" stroke-width="1.3"/>
</svg>
</body></html>
